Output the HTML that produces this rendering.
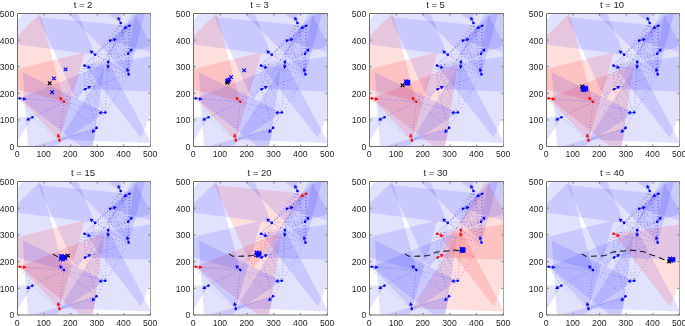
<!DOCTYPE html><html><head><meta charset="utf-8"><style>html,body{margin:0;padding:0;background:#fff;width:685px;height:326px;overflow:hidden}svg{display:block;filter:blur(0.3px)}text{font-family:"Liberation Sans",sans-serif;fill:#1e1e1e}.tx{filter:grayscale(1)}</style></head><body>
<svg width="685" height="326" viewBox="0 0 685 326">
<defs>
<clipPath id="c0"><rect x="18" y="14" width="132" height="132"/></clipPath>
<clipPath id="c1"><rect x="194" y="14" width="133" height="132"/></clipPath>
<clipPath id="c2"><rect x="370" y="14" width="133" height="132"/></clipPath>
<clipPath id="c3"><rect x="547" y="14" width="132" height="132"/></clipPath>
<clipPath id="c4"><rect x="18" y="182" width="132" height="132.5"/></clipPath>
<clipPath id="c5"><rect x="194" y="182" width="133" height="132.5"/></clipPath>
<clipPath id="c6"><rect x="370" y="182" width="133" height="132.5"/></clipPath>
<clipPath id="c7"><rect x="547" y="182" width="132" height="132.5"/></clipPath>
</defs>
<g clip-path="url(#c0)">
<polygon points="120.71,23.08 128.71,-68.34 45.53,-29.56" fill="rgb(0,0,255)" fill-opacity="0.115"/>
<polygon points="129.49,25.74 38.12,17.10 76.33,100.54" fill="rgb(0,0,255)" fill-opacity="0.115"/>
<polygon points="110.07,40.63 198.28,65.93 176.08,-23.12" fill="rgb(0,0,255)" fill-opacity="0.115"/>
<polygon points="95.17,54.73 58.73,-33.25 0.76,42.30" fill="rgb(0,0,255)" fill-opacity="0.115"/>
<polygon points="128.16,53.67 214.39,22.28 144.09,-36.71" fill="rgb(0,0,255)" fill-opacity="0.115"/>
<polygon points="108.21,61.91 59.58,139.74 151.29,142.94" fill="rgb(0,0,255)" fill-opacity="0.115"/>
<polygon points="128.69,74.41 152.44,-14.23 63.80,9.52" fill="rgb(0,0,255)" fill-opacity="0.115"/>
<polygon points="84.53,65.64 141.03,137.95 175.41,52.86" fill="rgb(0,0,255)" fill-opacity="0.115"/>
<polygon points="19.63,98.35 91.94,154.85 104.72,63.98" fill="rgb(0,0,255)" fill-opacity="0.115"/>
<polygon points="32.40,117.24 -59.32,114.04 -16.23,195.07" fill="rgb(0,0,255)" fill-opacity="0.115"/>
<polygon points="64.05,101.81 40.30,13.17 -24.59,78.06" fill="rgb(255,0,0)" fill-opacity="0.13"/>
<polygon points="59.53,140.38 84.82,52.17 -4.22,74.37" fill="rgb(255,0,0)" fill-opacity="0.13"/>
<polygon points="85.06,89.31 176.78,92.51 133.69,11.48" fill="rgb(0,0,255)" fill-opacity="0.115"/>
<polygon points="105.28,112.45 22.80,72.22 29.20,163.77" fill="rgb(0,0,255)" fill-opacity="0.115"/>
<polygon points="96.50,127.88 8.29,153.18 74.30,216.92" fill="rgb(0,0,255)" fill-opacity="0.115"/>
<line x1="120.7" y1="23.1" x2="129.5" y2="25.7" stroke="#0000ff" stroke-width="0.75" stroke-dasharray="0.8 2.4" stroke-opacity="0.5"/>
<line x1="120.7" y1="23.1" x2="110.1" y2="40.6" stroke="#0000ff" stroke-width="0.75" stroke-dasharray="0.8 2.4" stroke-opacity="0.5"/>
<line x1="120.7" y1="23.1" x2="95.2" y2="54.7" stroke="#0000ff" stroke-width="0.75" stroke-dasharray="0.8 2.4" stroke-opacity="0.5"/>
<line x1="120.7" y1="23.1" x2="128.2" y2="53.7" stroke="#0000ff" stroke-width="0.75" stroke-dasharray="0.8 2.4" stroke-opacity="0.5"/>
<line x1="120.7" y1="23.1" x2="108.2" y2="61.9" stroke="#0000ff" stroke-width="0.75" stroke-dasharray="0.8 2.4" stroke-opacity="0.5"/>
<line x1="120.7" y1="23.1" x2="128.7" y2="74.4" stroke="#0000ff" stroke-width="0.75" stroke-dasharray="0.8 2.4" stroke-opacity="0.5"/>
<line x1="129.5" y1="25.7" x2="110.1" y2="40.6" stroke="#0000ff" stroke-width="0.75" stroke-dasharray="0.8 2.4" stroke-opacity="0.5"/>
<line x1="129.5" y1="25.7" x2="95.2" y2="54.7" stroke="#0000ff" stroke-width="0.75" stroke-dasharray="0.8 2.4" stroke-opacity="0.5"/>
<line x1="129.5" y1="25.7" x2="128.2" y2="53.7" stroke="#0000ff" stroke-width="0.75" stroke-dasharray="0.8 2.4" stroke-opacity="0.5"/>
<line x1="129.5" y1="25.7" x2="108.2" y2="61.9" stroke="#0000ff" stroke-width="0.75" stroke-dasharray="0.8 2.4" stroke-opacity="0.5"/>
<line x1="129.5" y1="25.7" x2="128.7" y2="74.4" stroke="#0000ff" stroke-width="0.75" stroke-dasharray="0.8 2.4" stroke-opacity="0.5"/>
<line x1="110.1" y1="40.6" x2="95.2" y2="54.7" stroke="#0000ff" stroke-width="0.75" stroke-dasharray="0.8 2.4" stroke-opacity="0.5"/>
<line x1="110.1" y1="40.6" x2="128.2" y2="53.7" stroke="#0000ff" stroke-width="0.75" stroke-dasharray="0.8 2.4" stroke-opacity="0.5"/>
<line x1="110.1" y1="40.6" x2="108.2" y2="61.9" stroke="#0000ff" stroke-width="0.75" stroke-dasharray="0.8 2.4" stroke-opacity="0.5"/>
<line x1="110.1" y1="40.6" x2="128.7" y2="74.4" stroke="#0000ff" stroke-width="0.75" stroke-dasharray="0.8 2.4" stroke-opacity="0.5"/>
<line x1="110.1" y1="40.6" x2="84.5" y2="65.6" stroke="#0000ff" stroke-width="0.75" stroke-dasharray="0.8 2.4" stroke-opacity="0.5"/>
<line x1="95.2" y1="54.7" x2="128.2" y2="53.7" stroke="#0000ff" stroke-width="0.75" stroke-dasharray="0.8 2.4" stroke-opacity="0.5"/>
<line x1="95.2" y1="54.7" x2="108.2" y2="61.9" stroke="#0000ff" stroke-width="0.75" stroke-dasharray="0.8 2.4" stroke-opacity="0.5"/>
<line x1="95.2" y1="54.7" x2="128.7" y2="74.4" stroke="#0000ff" stroke-width="0.75" stroke-dasharray="0.8 2.4" stroke-opacity="0.5"/>
<line x1="95.2" y1="54.7" x2="84.5" y2="65.6" stroke="#0000ff" stroke-width="0.75" stroke-dasharray="0.8 2.4" stroke-opacity="0.5"/>
<line x1="95.2" y1="54.7" x2="85.1" y2="89.3" stroke="#0000ff" stroke-width="0.75" stroke-dasharray="0.8 2.4" stroke-opacity="0.5"/>
<line x1="128.2" y1="53.7" x2="108.2" y2="61.9" stroke="#0000ff" stroke-width="0.75" stroke-dasharray="0.8 2.4" stroke-opacity="0.5"/>
<line x1="128.2" y1="53.7" x2="128.7" y2="74.4" stroke="#0000ff" stroke-width="0.75" stroke-dasharray="0.8 2.4" stroke-opacity="0.5"/>
<line x1="128.2" y1="53.7" x2="84.5" y2="65.6" stroke="#0000ff" stroke-width="0.75" stroke-dasharray="0.8 2.4" stroke-opacity="0.5"/>
<line x1="108.2" y1="61.9" x2="128.7" y2="74.4" stroke="#0000ff" stroke-width="0.75" stroke-dasharray="0.8 2.4" stroke-opacity="0.5"/>
<line x1="108.2" y1="61.9" x2="84.5" y2="65.6" stroke="#0000ff" stroke-width="0.75" stroke-dasharray="0.8 2.4" stroke-opacity="0.5"/>
<line x1="108.2" y1="61.9" x2="85.1" y2="89.3" stroke="#0000ff" stroke-width="0.75" stroke-dasharray="0.8 2.4" stroke-opacity="0.5"/>
<line x1="108.2" y1="61.9" x2="105.3" y2="112.5" stroke="#0000ff" stroke-width="0.75" stroke-dasharray="0.8 2.4" stroke-opacity="0.5"/>
<line x1="128.7" y1="74.4" x2="84.5" y2="65.6" stroke="#0000ff" stroke-width="0.75" stroke-dasharray="0.8 2.4" stroke-opacity="0.5"/>
<line x1="128.7" y1="74.4" x2="85.1" y2="89.3" stroke="#0000ff" stroke-width="0.75" stroke-dasharray="0.8 2.4" stroke-opacity="0.5"/>
<line x1="128.7" y1="74.4" x2="105.3" y2="112.5" stroke="#0000ff" stroke-width="0.75" stroke-dasharray="0.8 2.4" stroke-opacity="0.5"/>
<line x1="84.5" y1="65.6" x2="64.0" y2="101.8" stroke="#0000ff" stroke-width="0.75" stroke-dasharray="0.8 2.4" stroke-opacity="0.5"/>
<line x1="84.5" y1="65.6" x2="85.1" y2="89.3" stroke="#0000ff" stroke-width="0.75" stroke-dasharray="0.8 2.4" stroke-opacity="0.5"/>
<line x1="84.5" y1="65.6" x2="105.3" y2="112.5" stroke="#0000ff" stroke-width="0.75" stroke-dasharray="0.8 2.4" stroke-opacity="0.5"/>
<line x1="19.6" y1="98.4" x2="32.4" y2="117.2" stroke="#0000ff" stroke-width="0.75" stroke-dasharray="0.8 2.4" stroke-opacity="0.5"/>
<line x1="19.6" y1="98.4" x2="64.0" y2="101.8" stroke="#0000ff" stroke-width="0.75" stroke-dasharray="0.8 2.4" stroke-opacity="0.5"/>
<line x1="32.4" y1="117.2" x2="64.0" y2="101.8" stroke="#0000ff" stroke-width="0.75" stroke-dasharray="0.8 2.4" stroke-opacity="0.5"/>
<line x1="32.4" y1="117.2" x2="59.5" y2="140.4" stroke="#0000ff" stroke-width="0.75" stroke-dasharray="0.8 2.4" stroke-opacity="0.5"/>
<line x1="64.0" y1="101.8" x2="59.5" y2="140.4" stroke="#0000ff" stroke-width="0.75" stroke-dasharray="0.8 2.4" stroke-opacity="0.5"/>
<line x1="64.0" y1="101.8" x2="85.1" y2="89.3" stroke="#0000ff" stroke-width="0.75" stroke-dasharray="0.8 2.4" stroke-opacity="0.5"/>
<line x1="64.0" y1="101.8" x2="105.3" y2="112.5" stroke="#0000ff" stroke-width="0.75" stroke-dasharray="0.8 2.4" stroke-opacity="0.5"/>
<line x1="64.0" y1="101.8" x2="96.5" y2="127.9" stroke="#0000ff" stroke-width="0.75" stroke-dasharray="0.8 2.4" stroke-opacity="0.5"/>
<line x1="59.5" y1="140.4" x2="96.5" y2="127.9" stroke="#0000ff" stroke-width="0.75" stroke-dasharray="0.8 2.4" stroke-opacity="0.5"/>
<line x1="85.1" y1="89.3" x2="105.3" y2="112.5" stroke="#0000ff" stroke-width="0.75" stroke-dasharray="0.8 2.4" stroke-opacity="0.5"/>
<line x1="85.1" y1="89.3" x2="96.5" y2="127.9" stroke="#0000ff" stroke-width="0.75" stroke-dasharray="0.8 2.4" stroke-opacity="0.5"/>
<line x1="105.3" y1="112.5" x2="96.5" y2="127.9" stroke="#0000ff" stroke-width="0.75" stroke-dasharray="0.8 2.4" stroke-opacity="0.5"/>
<circle cx="120.7" cy="23.1" r="1.3" fill="#0000ff"/>
<line x1="120.7" y1="23.1" x2="119.2" y2="19.8" stroke="#0000ff" stroke-width="0.7"/>
<polygon points="117.7,16.7 117.5,20.6 120.9,19.0" fill="#0000ff"/>
<circle cx="129.5" cy="25.7" r="1.3" fill="#0000ff"/>
<line x1="129.5" y1="25.7" x2="126.2" y2="27.2" stroke="#0000ff" stroke-width="0.7"/>
<polygon points="123.1,28.6 127.0,29.0 125.4,25.5" fill="#0000ff"/>
<circle cx="110.1" cy="40.6" r="1.3" fill="#0000ff"/>
<line x1="110.1" y1="40.6" x2="113.6" y2="39.8" stroke="#0000ff" stroke-width="0.7"/>
<polygon points="116.9,38.9 113.1,37.9 114.0,41.6" fill="#0000ff"/>
<circle cx="95.2" cy="54.7" r="1.3" fill="#0000ff"/>
<line x1="95.2" y1="54.7" x2="92.3" y2="52.5" stroke="#0000ff" stroke-width="0.7"/>
<polygon points="89.6,50.5 91.2,54.0 93.5,51.0" fill="#0000ff"/>
<circle cx="128.2" cy="53.7" r="1.3" fill="#0000ff"/>
<line x1="128.2" y1="53.7" x2="130.5" y2="50.9" stroke="#0000ff" stroke-width="0.7"/>
<polygon points="132.7,48.3 129.0,49.7 131.9,52.1" fill="#0000ff"/>
<circle cx="108.2" cy="61.9" r="1.3" fill="#0000ff"/>
<line x1="108.2" y1="61.9" x2="108.1" y2="65.5" stroke="#0000ff" stroke-width="0.7"/>
<polygon points="108.0,68.9 110.0,65.6 106.2,65.4" fill="#0000ff"/>
<circle cx="128.7" cy="74.4" r="1.3" fill="#0000ff"/>
<line x1="128.7" y1="74.4" x2="127.8" y2="70.9" stroke="#0000ff" stroke-width="0.7"/>
<polygon points="126.9,67.7 125.9,71.4 129.6,70.4" fill="#0000ff"/>
<circle cx="84.5" cy="65.6" r="1.3" fill="#0000ff"/>
<line x1="84.5" y1="65.6" x2="87.9" y2="67.0" stroke="#0000ff" stroke-width="0.7"/>
<polygon points="91.0,68.3 88.6,65.2 87.2,68.7" fill="#0000ff"/>
<circle cx="19.6" cy="98.4" r="1.3" fill="#0000ff"/>
<line x1="19.6" y1="98.4" x2="23.2" y2="98.9" stroke="#0000ff" stroke-width="0.7"/>
<polygon points="26.6,99.3 23.5,97.0 22.9,100.7" fill="#0000ff"/>
<circle cx="32.4" cy="117.2" r="1.3" fill="#0000ff"/>
<line x1="32.4" y1="117.2" x2="29.2" y2="118.9" stroke="#0000ff" stroke-width="0.7"/>
<polygon points="26.2,120.5 30.1,120.6 28.3,117.3" fill="#0000ff"/>
<circle cx="64.0" cy="101.8" r="1.3" fill="#ff0000"/>
<line x1="64.0" y1="101.8" x2="61.5" y2="99.3" stroke="#ff0000" stroke-width="0.7"/>
<polygon points="59.1,96.9 60.2,100.6 62.8,97.9" fill="#ff0000"/>
<circle cx="59.5" cy="140.4" r="1.3" fill="#ff0000"/>
<line x1="59.5" y1="140.4" x2="58.7" y2="136.9" stroke="#ff0000" stroke-width="0.7"/>
<polygon points="57.8,133.6 56.8,137.3 60.5,136.4" fill="#ff0000"/>
<circle cx="85.1" cy="89.3" r="1.3" fill="#0000ff"/>
<line x1="85.1" y1="89.3" x2="88.2" y2="87.6" stroke="#0000ff" stroke-width="0.7"/>
<polygon points="91.2,86.0 87.4,85.9 89.1,89.3" fill="#0000ff"/>
<circle cx="105.3" cy="112.5" r="1.3" fill="#0000ff"/>
<line x1="105.3" y1="112.5" x2="101.7" y2="112.7" stroke="#0000ff" stroke-width="0.7"/>
<polygon points="98.3,112.9 101.8,114.6 101.6,110.8" fill="#0000ff"/>
<circle cx="96.5" cy="127.9" r="1.3" fill="#0000ff"/>
<line x1="96.5" y1="127.9" x2="94.0" y2="130.5" stroke="#0000ff" stroke-width="0.7"/>
<polygon points="91.6,132.9 95.4,131.8 92.6,129.1" fill="#0000ff"/>
<path d="M63.8,67.6L67.4,71.2M63.8,71.2L67.4,67.6" stroke="#0000ff" stroke-width="1.2"/>
<path d="M52.1,76.6L55.7,80.2M52.1,80.2L55.7,76.6" stroke="#0000ff" stroke-width="1.2"/>
<path d="M50.3,90.4L53.9,94.0M50.3,94.0L53.9,90.4" stroke="#0000ff" stroke-width="1.2"/>
<path d="M47.9,81.4L51.5,85.0M47.9,85.0L51.5,81.4" stroke="#000" stroke-width="1.2"/>
</g>
<path d="M150.5,13.5H17.5V146.5H150.5" fill="none" stroke="#6c6c6c" stroke-width="1"/>
<path d="M150.5,13V147" fill="none" stroke="#a4a4a4" stroke-width="1"/>
<path d="M17.5,146v-1.5M17.5,14v1.5M18,146.5h1.5M150,146.5h-1.5M44.1,146v-1.5M44.1,14v1.5M18,119.9h1.5M150,119.9h-1.5M70.7,146v-1.5M70.7,14v1.5M18,93.3h1.5M150,93.3h-1.5M97.3,146v-1.5M97.3,14v1.5M18,66.7h1.5M150,66.7h-1.5M123.9,146v-1.5M123.9,14v1.5M18,40.1h1.5M150,40.1h-1.5M150.5,146v-1.5M150.5,14v1.5M18,13.5h1.5M150,13.5h-1.5" stroke="#6c6c6c" stroke-width="1"/>
<g clip-path="url(#c1)">
<polygon points="297.48,23.08 305.54,-68.34 221.75,-29.56" fill="rgb(0,0,255)" fill-opacity="0.115"/>
<polygon points="306.33,25.74 214.28,17.10 252.77,100.54" fill="rgb(0,0,255)" fill-opacity="0.115"/>
<polygon points="286.76,40.63 375.64,65.93 353.27,-23.12" fill="rgb(0,0,255)" fill-opacity="0.115"/>
<polygon points="271.76,54.73 235.04,-33.25 176.63,42.30" fill="rgb(0,0,255)" fill-opacity="0.115"/>
<polygon points="304.99,53.67 391.87,22.28 321.04,-36.71" fill="rgb(0,0,255)" fill-opacity="0.115"/>
<polygon points="284.89,61.91 235.89,139.74 328.30,142.94" fill="rgb(0,0,255)" fill-opacity="0.115"/>
<polygon points="305.52,74.41 329.45,-14.23 240.14,9.52" fill="rgb(0,0,255)" fill-opacity="0.115"/>
<polygon points="261.04,65.64 317.96,137.95 352.60,52.86" fill="rgb(0,0,255)" fill-opacity="0.115"/>
<polygon points="195.64,98.35 268.50,154.85 281.37,63.98" fill="rgb(0,0,255)" fill-opacity="0.115"/>
<polygon points="208.51,117.24 116.10,114.04 159.51,195.07" fill="rgb(0,0,255)" fill-opacity="0.115"/>
<polygon points="240.40,101.81 216.47,13.17 151.09,78.06" fill="rgb(255,0,0)" fill-opacity="0.13"/>
<polygon points="235.84,140.38 261.33,52.17 171.62,74.37" fill="rgb(255,0,0)" fill-opacity="0.13"/>
<polygon points="261.57,89.31 353.98,92.51 310.57,11.48" fill="rgb(0,0,255)" fill-opacity="0.115"/>
<polygon points="281.94,112.45 198.84,72.22 205.29,163.77" fill="rgb(0,0,255)" fill-opacity="0.115"/>
<polygon points="273.10,127.88 184.22,153.18 250.73,216.92" fill="rgb(0,0,255)" fill-opacity="0.115"/>
<line x1="297.5" y1="23.1" x2="306.3" y2="25.7" stroke="#0000ff" stroke-width="0.75" stroke-dasharray="0.8 2.4" stroke-opacity="0.5"/>
<line x1="297.5" y1="23.1" x2="286.8" y2="40.6" stroke="#0000ff" stroke-width="0.75" stroke-dasharray="0.8 2.4" stroke-opacity="0.5"/>
<line x1="297.5" y1="23.1" x2="271.8" y2="54.7" stroke="#0000ff" stroke-width="0.75" stroke-dasharray="0.8 2.4" stroke-opacity="0.5"/>
<line x1="297.5" y1="23.1" x2="305.0" y2="53.7" stroke="#0000ff" stroke-width="0.75" stroke-dasharray="0.8 2.4" stroke-opacity="0.5"/>
<line x1="297.5" y1="23.1" x2="284.9" y2="61.9" stroke="#0000ff" stroke-width="0.75" stroke-dasharray="0.8 2.4" stroke-opacity="0.5"/>
<line x1="297.5" y1="23.1" x2="305.5" y2="74.4" stroke="#0000ff" stroke-width="0.75" stroke-dasharray="0.8 2.4" stroke-opacity="0.5"/>
<line x1="306.3" y1="25.7" x2="286.8" y2="40.6" stroke="#0000ff" stroke-width="0.75" stroke-dasharray="0.8 2.4" stroke-opacity="0.5"/>
<line x1="306.3" y1="25.7" x2="271.8" y2="54.7" stroke="#0000ff" stroke-width="0.75" stroke-dasharray="0.8 2.4" stroke-opacity="0.5"/>
<line x1="306.3" y1="25.7" x2="305.0" y2="53.7" stroke="#0000ff" stroke-width="0.75" stroke-dasharray="0.8 2.4" stroke-opacity="0.5"/>
<line x1="306.3" y1="25.7" x2="284.9" y2="61.9" stroke="#0000ff" stroke-width="0.75" stroke-dasharray="0.8 2.4" stroke-opacity="0.5"/>
<line x1="306.3" y1="25.7" x2="305.5" y2="74.4" stroke="#0000ff" stroke-width="0.75" stroke-dasharray="0.8 2.4" stroke-opacity="0.5"/>
<line x1="286.8" y1="40.6" x2="271.8" y2="54.7" stroke="#0000ff" stroke-width="0.75" stroke-dasharray="0.8 2.4" stroke-opacity="0.5"/>
<line x1="286.8" y1="40.6" x2="305.0" y2="53.7" stroke="#0000ff" stroke-width="0.75" stroke-dasharray="0.8 2.4" stroke-opacity="0.5"/>
<line x1="286.8" y1="40.6" x2="284.9" y2="61.9" stroke="#0000ff" stroke-width="0.75" stroke-dasharray="0.8 2.4" stroke-opacity="0.5"/>
<line x1="286.8" y1="40.6" x2="305.5" y2="74.4" stroke="#0000ff" stroke-width="0.75" stroke-dasharray="0.8 2.4" stroke-opacity="0.5"/>
<line x1="286.8" y1="40.6" x2="261.0" y2="65.6" stroke="#0000ff" stroke-width="0.75" stroke-dasharray="0.8 2.4" stroke-opacity="0.5"/>
<line x1="271.8" y1="54.7" x2="305.0" y2="53.7" stroke="#0000ff" stroke-width="0.75" stroke-dasharray="0.8 2.4" stroke-opacity="0.5"/>
<line x1="271.8" y1="54.7" x2="284.9" y2="61.9" stroke="#0000ff" stroke-width="0.75" stroke-dasharray="0.8 2.4" stroke-opacity="0.5"/>
<line x1="271.8" y1="54.7" x2="305.5" y2="74.4" stroke="#0000ff" stroke-width="0.75" stroke-dasharray="0.8 2.4" stroke-opacity="0.5"/>
<line x1="271.8" y1="54.7" x2="261.0" y2="65.6" stroke="#0000ff" stroke-width="0.75" stroke-dasharray="0.8 2.4" stroke-opacity="0.5"/>
<line x1="271.8" y1="54.7" x2="261.6" y2="89.3" stroke="#0000ff" stroke-width="0.75" stroke-dasharray="0.8 2.4" stroke-opacity="0.5"/>
<line x1="305.0" y1="53.7" x2="284.9" y2="61.9" stroke="#0000ff" stroke-width="0.75" stroke-dasharray="0.8 2.4" stroke-opacity="0.5"/>
<line x1="305.0" y1="53.7" x2="305.5" y2="74.4" stroke="#0000ff" stroke-width="0.75" stroke-dasharray="0.8 2.4" stroke-opacity="0.5"/>
<line x1="305.0" y1="53.7" x2="261.0" y2="65.6" stroke="#0000ff" stroke-width="0.75" stroke-dasharray="0.8 2.4" stroke-opacity="0.5"/>
<line x1="284.9" y1="61.9" x2="305.5" y2="74.4" stroke="#0000ff" stroke-width="0.75" stroke-dasharray="0.8 2.4" stroke-opacity="0.5"/>
<line x1="284.9" y1="61.9" x2="261.0" y2="65.6" stroke="#0000ff" stroke-width="0.75" stroke-dasharray="0.8 2.4" stroke-opacity="0.5"/>
<line x1="284.9" y1="61.9" x2="261.6" y2="89.3" stroke="#0000ff" stroke-width="0.75" stroke-dasharray="0.8 2.4" stroke-opacity="0.5"/>
<line x1="284.9" y1="61.9" x2="281.9" y2="112.5" stroke="#0000ff" stroke-width="0.75" stroke-dasharray="0.8 2.4" stroke-opacity="0.5"/>
<line x1="305.5" y1="74.4" x2="261.0" y2="65.6" stroke="#0000ff" stroke-width="0.75" stroke-dasharray="0.8 2.4" stroke-opacity="0.5"/>
<line x1="305.5" y1="74.4" x2="261.6" y2="89.3" stroke="#0000ff" stroke-width="0.75" stroke-dasharray="0.8 2.4" stroke-opacity="0.5"/>
<line x1="305.5" y1="74.4" x2="281.9" y2="112.5" stroke="#0000ff" stroke-width="0.75" stroke-dasharray="0.8 2.4" stroke-opacity="0.5"/>
<line x1="261.0" y1="65.6" x2="240.4" y2="101.8" stroke="#0000ff" stroke-width="0.75" stroke-dasharray="0.8 2.4" stroke-opacity="0.5"/>
<line x1="261.0" y1="65.6" x2="261.6" y2="89.3" stroke="#0000ff" stroke-width="0.75" stroke-dasharray="0.8 2.4" stroke-opacity="0.5"/>
<line x1="261.0" y1="65.6" x2="281.9" y2="112.5" stroke="#0000ff" stroke-width="0.75" stroke-dasharray="0.8 2.4" stroke-opacity="0.5"/>
<line x1="195.6" y1="98.4" x2="208.5" y2="117.2" stroke="#0000ff" stroke-width="0.75" stroke-dasharray="0.8 2.4" stroke-opacity="0.5"/>
<line x1="195.6" y1="98.4" x2="240.4" y2="101.8" stroke="#0000ff" stroke-width="0.75" stroke-dasharray="0.8 2.4" stroke-opacity="0.5"/>
<line x1="208.5" y1="117.2" x2="240.4" y2="101.8" stroke="#0000ff" stroke-width="0.75" stroke-dasharray="0.8 2.4" stroke-opacity="0.5"/>
<line x1="208.5" y1="117.2" x2="235.8" y2="140.4" stroke="#0000ff" stroke-width="0.75" stroke-dasharray="0.8 2.4" stroke-opacity="0.5"/>
<line x1="240.4" y1="101.8" x2="235.8" y2="140.4" stroke="#0000ff" stroke-width="0.75" stroke-dasharray="0.8 2.4" stroke-opacity="0.5"/>
<line x1="240.4" y1="101.8" x2="261.6" y2="89.3" stroke="#0000ff" stroke-width="0.75" stroke-dasharray="0.8 2.4" stroke-opacity="0.5"/>
<line x1="240.4" y1="101.8" x2="281.9" y2="112.5" stroke="#0000ff" stroke-width="0.75" stroke-dasharray="0.8 2.4" stroke-opacity="0.5"/>
<line x1="240.4" y1="101.8" x2="273.1" y2="127.9" stroke="#0000ff" stroke-width="0.75" stroke-dasharray="0.8 2.4" stroke-opacity="0.5"/>
<line x1="235.8" y1="140.4" x2="273.1" y2="127.9" stroke="#0000ff" stroke-width="0.75" stroke-dasharray="0.8 2.4" stroke-opacity="0.5"/>
<line x1="261.6" y1="89.3" x2="281.9" y2="112.5" stroke="#0000ff" stroke-width="0.75" stroke-dasharray="0.8 2.4" stroke-opacity="0.5"/>
<line x1="261.6" y1="89.3" x2="273.1" y2="127.9" stroke="#0000ff" stroke-width="0.75" stroke-dasharray="0.8 2.4" stroke-opacity="0.5"/>
<line x1="281.9" y1="112.5" x2="273.1" y2="127.9" stroke="#0000ff" stroke-width="0.75" stroke-dasharray="0.8 2.4" stroke-opacity="0.5"/>
<circle cx="297.5" cy="23.1" r="1.3" fill="#0000ff"/>
<line x1="297.5" y1="23.1" x2="296.0" y2="19.8" stroke="#0000ff" stroke-width="0.7"/>
<polygon points="294.5,16.7 294.2,20.6 297.7,19.0" fill="#0000ff"/>
<circle cx="306.3" cy="25.7" r="1.3" fill="#0000ff"/>
<line x1="306.3" y1="25.7" x2="303.1" y2="27.2" stroke="#0000ff" stroke-width="0.7"/>
<polygon points="300.0,28.6 303.8,29.0 302.3,25.5" fill="#0000ff"/>
<circle cx="286.8" cy="40.6" r="1.3" fill="#0000ff"/>
<line x1="286.8" y1="40.6" x2="290.3" y2="39.8" stroke="#0000ff" stroke-width="0.7"/>
<polygon points="293.6,38.9 289.8,37.9 290.7,41.6" fill="#0000ff"/>
<circle cx="271.8" cy="54.7" r="1.3" fill="#0000ff"/>
<line x1="271.8" y1="54.7" x2="268.9" y2="52.5" stroke="#0000ff" stroke-width="0.7"/>
<polygon points="266.2,50.5 267.7,54.0 270.1,51.0" fill="#0000ff"/>
<circle cx="305.0" cy="53.7" r="1.3" fill="#0000ff"/>
<line x1="305.0" y1="53.7" x2="307.3" y2="50.9" stroke="#0000ff" stroke-width="0.7"/>
<polygon points="309.5,48.3 305.8,49.7 308.8,52.1" fill="#0000ff"/>
<circle cx="284.9" cy="61.9" r="1.3" fill="#0000ff"/>
<line x1="284.9" y1="61.9" x2="284.8" y2="65.5" stroke="#0000ff" stroke-width="0.7"/>
<polygon points="284.6,68.9 286.7,65.6 282.9,65.4" fill="#0000ff"/>
<circle cx="305.5" cy="74.4" r="1.3" fill="#0000ff"/>
<line x1="305.5" y1="74.4" x2="304.6" y2="70.9" stroke="#0000ff" stroke-width="0.7"/>
<polygon points="303.7,67.7 302.8,71.4 306.4,70.4" fill="#0000ff"/>
<circle cx="261.0" cy="65.6" r="1.3" fill="#0000ff"/>
<line x1="261.0" y1="65.6" x2="264.4" y2="67.0" stroke="#0000ff" stroke-width="0.7"/>
<polygon points="267.5,68.3 265.1,65.2 263.7,68.7" fill="#0000ff"/>
<circle cx="195.6" cy="98.4" r="1.3" fill="#0000ff"/>
<line x1="195.6" y1="98.4" x2="199.2" y2="98.9" stroke="#0000ff" stroke-width="0.7"/>
<polygon points="202.6,99.3 199.5,97.0 198.9,100.7" fill="#0000ff"/>
<circle cx="208.5" cy="117.2" r="1.3" fill="#0000ff"/>
<line x1="208.5" y1="117.2" x2="205.3" y2="118.9" stroke="#0000ff" stroke-width="0.7"/>
<polygon points="202.3,120.5 206.2,120.6 204.4,117.3" fill="#0000ff"/>
<circle cx="240.4" cy="101.8" r="1.3" fill="#ff0000"/>
<line x1="240.4" y1="101.8" x2="237.9" y2="99.3" stroke="#ff0000" stroke-width="0.7"/>
<polygon points="235.5,96.9 236.5,100.6 239.2,97.9" fill="#ff0000"/>
<circle cx="235.8" cy="140.4" r="1.3" fill="#ff0000"/>
<line x1="235.8" y1="140.4" x2="235.0" y2="136.9" stroke="#ff0000" stroke-width="0.7"/>
<polygon points="234.2,133.6 233.1,137.3 236.8,136.4" fill="#ff0000"/>
<circle cx="261.6" cy="89.3" r="1.3" fill="#0000ff"/>
<line x1="261.6" y1="89.3" x2="264.8" y2="87.6" stroke="#0000ff" stroke-width="0.7"/>
<polygon points="267.8,86.0 263.9,85.9 265.6,89.3" fill="#0000ff"/>
<circle cx="281.9" cy="112.5" r="1.3" fill="#0000ff"/>
<line x1="281.9" y1="112.5" x2="278.3" y2="112.7" stroke="#0000ff" stroke-width="0.7"/>
<polygon points="275.0,112.9 278.5,114.6 278.2,110.8" fill="#0000ff"/>
<circle cx="273.1" cy="127.9" r="1.3" fill="#0000ff"/>
<line x1="273.1" y1="127.9" x2="270.6" y2="130.5" stroke="#0000ff" stroke-width="0.7"/>
<polygon points="268.2,132.9 272.0,131.8 269.2,129.1" fill="#0000ff"/>
<path d="M242.4,68.6L246.0,72.2M242.4,72.2L246.0,68.6" stroke="#0000ff" stroke-width="1.2"/>
<path d="M229.2,75.3L232.8,78.9M229.2,78.9L232.8,75.3" stroke="#0000ff" stroke-width="1.2"/>
<path d="M226.0,78.5L229.6,82.1M226.0,82.1L229.6,78.5" stroke="#0000ff" stroke-width="1.2"/>
<path d="M226.8,79.8L230.4,83.4M226.8,83.4L230.4,79.8" stroke="#0000ff" stroke-width="1.2"/>
<path d="M227.6,77.7L231.2,81.3M227.6,81.3L231.2,77.7" stroke="#0000ff" stroke-width="1.2"/>
<path d="M225.2,79.3L228.8,82.9M225.2,82.9L228.8,79.3" stroke="#0000ff" stroke-width="1.2"/>
<path d="M225.5,80.9L229.1,84.5M225.5,84.5L229.1,80.9" stroke="#000" stroke-width="1.2"/>
</g>
<path d="M327.5,13.5H193.5V146.5H327.5" fill="none" stroke="#6c6c6c" stroke-width="1"/>
<path d="M327.5,13V147" fill="none" stroke="#a4a4a4" stroke-width="1"/>
<path d="M193.5,146v-1.5M193.5,14v1.5M194,146.5h1.5M327,146.5h-1.5M220.3,146v-1.5M220.3,14v1.5M194,119.9h1.5M327,119.9h-1.5M247.1,146v-1.5M247.1,14v1.5M194,93.3h1.5M327,93.3h-1.5M273.9,146v-1.5M273.9,14v1.5M194,66.7h1.5M327,66.7h-1.5M300.7,146v-1.5M300.7,14v1.5M194,40.1h1.5M327,40.1h-1.5M327.5,146v-1.5M327.5,14v1.5M194,13.5h1.5M327,13.5h-1.5" stroke="#6c6c6c" stroke-width="1"/>
<g clip-path="url(#c2)">
<polygon points="473.48,23.08 481.54,-68.34 397.75,-29.56" fill="rgb(0,0,255)" fill-opacity="0.115"/>
<polygon points="482.33,25.74 390.28,17.10 428.77,100.54" fill="rgb(0,0,255)" fill-opacity="0.115"/>
<polygon points="462.76,40.63 551.64,65.93 529.27,-23.12" fill="rgb(0,0,255)" fill-opacity="0.115"/>
<polygon points="447.76,54.73 411.04,-33.25 352.63,42.30" fill="rgb(0,0,255)" fill-opacity="0.115"/>
<polygon points="480.99,53.67 567.87,22.28 497.04,-36.71" fill="rgb(0,0,255)" fill-opacity="0.115"/>
<polygon points="460.89,61.91 411.89,139.74 504.30,142.94" fill="rgb(0,0,255)" fill-opacity="0.115"/>
<polygon points="481.52,74.41 505.45,-14.23 416.14,9.52" fill="rgb(0,0,255)" fill-opacity="0.115"/>
<polygon points="437.04,65.64 493.96,137.95 528.60,52.86" fill="rgb(0,0,255)" fill-opacity="0.115"/>
<polygon points="371.64,98.35 444.50,154.85 457.37,63.98" fill="rgb(255,0,0)" fill-opacity="0.13"/>
<polygon points="384.51,117.24 292.10,114.04 335.51,195.07" fill="rgb(0,0,255)" fill-opacity="0.115"/>
<polygon points="416.40,101.81 392.47,13.17 327.09,78.06" fill="rgb(255,0,0)" fill-opacity="0.13"/>
<polygon points="411.84,140.38 437.33,52.17 347.62,74.37" fill="rgb(255,0,0)" fill-opacity="0.13"/>
<polygon points="437.57,89.31 529.98,92.51 486.57,11.48" fill="rgb(0,0,255)" fill-opacity="0.115"/>
<polygon points="457.94,112.45 374.84,72.22 381.29,163.77" fill="rgb(0,0,255)" fill-opacity="0.115"/>
<polygon points="449.10,127.88 360.22,153.18 426.73,216.92" fill="rgb(0,0,255)" fill-opacity="0.115"/>
<line x1="473.5" y1="23.1" x2="482.3" y2="25.7" stroke="#0000ff" stroke-width="0.75" stroke-dasharray="0.8 2.4" stroke-opacity="0.5"/>
<line x1="473.5" y1="23.1" x2="462.8" y2="40.6" stroke="#0000ff" stroke-width="0.75" stroke-dasharray="0.8 2.4" stroke-opacity="0.5"/>
<line x1="473.5" y1="23.1" x2="447.8" y2="54.7" stroke="#0000ff" stroke-width="0.75" stroke-dasharray="0.8 2.4" stroke-opacity="0.5"/>
<line x1="473.5" y1="23.1" x2="481.0" y2="53.7" stroke="#0000ff" stroke-width="0.75" stroke-dasharray="0.8 2.4" stroke-opacity="0.5"/>
<line x1="473.5" y1="23.1" x2="460.9" y2="61.9" stroke="#0000ff" stroke-width="0.75" stroke-dasharray="0.8 2.4" stroke-opacity="0.5"/>
<line x1="473.5" y1="23.1" x2="481.5" y2="74.4" stroke="#0000ff" stroke-width="0.75" stroke-dasharray="0.8 2.4" stroke-opacity="0.5"/>
<line x1="482.3" y1="25.7" x2="462.8" y2="40.6" stroke="#0000ff" stroke-width="0.75" stroke-dasharray="0.8 2.4" stroke-opacity="0.5"/>
<line x1="482.3" y1="25.7" x2="447.8" y2="54.7" stroke="#0000ff" stroke-width="0.75" stroke-dasharray="0.8 2.4" stroke-opacity="0.5"/>
<line x1="482.3" y1="25.7" x2="481.0" y2="53.7" stroke="#0000ff" stroke-width="0.75" stroke-dasharray="0.8 2.4" stroke-opacity="0.5"/>
<line x1="482.3" y1="25.7" x2="460.9" y2="61.9" stroke="#0000ff" stroke-width="0.75" stroke-dasharray="0.8 2.4" stroke-opacity="0.5"/>
<line x1="482.3" y1="25.7" x2="481.5" y2="74.4" stroke="#0000ff" stroke-width="0.75" stroke-dasharray="0.8 2.4" stroke-opacity="0.5"/>
<line x1="462.8" y1="40.6" x2="447.8" y2="54.7" stroke="#0000ff" stroke-width="0.75" stroke-dasharray="0.8 2.4" stroke-opacity="0.5"/>
<line x1="462.8" y1="40.6" x2="481.0" y2="53.7" stroke="#0000ff" stroke-width="0.75" stroke-dasharray="0.8 2.4" stroke-opacity="0.5"/>
<line x1="462.8" y1="40.6" x2="460.9" y2="61.9" stroke="#0000ff" stroke-width="0.75" stroke-dasharray="0.8 2.4" stroke-opacity="0.5"/>
<line x1="462.8" y1="40.6" x2="481.5" y2="74.4" stroke="#0000ff" stroke-width="0.75" stroke-dasharray="0.8 2.4" stroke-opacity="0.5"/>
<line x1="462.8" y1="40.6" x2="437.0" y2="65.6" stroke="#0000ff" stroke-width="0.75" stroke-dasharray="0.8 2.4" stroke-opacity="0.5"/>
<line x1="447.8" y1="54.7" x2="481.0" y2="53.7" stroke="#0000ff" stroke-width="0.75" stroke-dasharray="0.8 2.4" stroke-opacity="0.5"/>
<line x1="447.8" y1="54.7" x2="460.9" y2="61.9" stroke="#0000ff" stroke-width="0.75" stroke-dasharray="0.8 2.4" stroke-opacity="0.5"/>
<line x1="447.8" y1="54.7" x2="481.5" y2="74.4" stroke="#0000ff" stroke-width="0.75" stroke-dasharray="0.8 2.4" stroke-opacity="0.5"/>
<line x1="447.8" y1="54.7" x2="437.0" y2="65.6" stroke="#0000ff" stroke-width="0.75" stroke-dasharray="0.8 2.4" stroke-opacity="0.5"/>
<line x1="447.8" y1="54.7" x2="437.6" y2="89.3" stroke="#0000ff" stroke-width="0.75" stroke-dasharray="0.8 2.4" stroke-opacity="0.5"/>
<line x1="481.0" y1="53.7" x2="460.9" y2="61.9" stroke="#0000ff" stroke-width="0.75" stroke-dasharray="0.8 2.4" stroke-opacity="0.5"/>
<line x1="481.0" y1="53.7" x2="481.5" y2="74.4" stroke="#0000ff" stroke-width="0.75" stroke-dasharray="0.8 2.4" stroke-opacity="0.5"/>
<line x1="481.0" y1="53.7" x2="437.0" y2="65.6" stroke="#0000ff" stroke-width="0.75" stroke-dasharray="0.8 2.4" stroke-opacity="0.5"/>
<line x1="460.9" y1="61.9" x2="481.5" y2="74.4" stroke="#0000ff" stroke-width="0.75" stroke-dasharray="0.8 2.4" stroke-opacity="0.5"/>
<line x1="460.9" y1="61.9" x2="437.0" y2="65.6" stroke="#0000ff" stroke-width="0.75" stroke-dasharray="0.8 2.4" stroke-opacity="0.5"/>
<line x1="460.9" y1="61.9" x2="437.6" y2="89.3" stroke="#0000ff" stroke-width="0.75" stroke-dasharray="0.8 2.4" stroke-opacity="0.5"/>
<line x1="460.9" y1="61.9" x2="457.9" y2="112.5" stroke="#0000ff" stroke-width="0.75" stroke-dasharray="0.8 2.4" stroke-opacity="0.5"/>
<line x1="481.5" y1="74.4" x2="437.0" y2="65.6" stroke="#0000ff" stroke-width="0.75" stroke-dasharray="0.8 2.4" stroke-opacity="0.5"/>
<line x1="481.5" y1="74.4" x2="437.6" y2="89.3" stroke="#0000ff" stroke-width="0.75" stroke-dasharray="0.8 2.4" stroke-opacity="0.5"/>
<line x1="481.5" y1="74.4" x2="457.9" y2="112.5" stroke="#0000ff" stroke-width="0.75" stroke-dasharray="0.8 2.4" stroke-opacity="0.5"/>
<line x1="437.0" y1="65.6" x2="416.4" y2="101.8" stroke="#0000ff" stroke-width="0.75" stroke-dasharray="0.8 2.4" stroke-opacity="0.5"/>
<line x1="437.0" y1="65.6" x2="437.6" y2="89.3" stroke="#0000ff" stroke-width="0.75" stroke-dasharray="0.8 2.4" stroke-opacity="0.5"/>
<line x1="437.0" y1="65.6" x2="457.9" y2="112.5" stroke="#0000ff" stroke-width="0.75" stroke-dasharray="0.8 2.4" stroke-opacity="0.5"/>
<line x1="371.6" y1="98.4" x2="384.5" y2="117.2" stroke="#0000ff" stroke-width="0.75" stroke-dasharray="0.8 2.4" stroke-opacity="0.5"/>
<line x1="371.6" y1="98.4" x2="416.4" y2="101.8" stroke="#0000ff" stroke-width="0.75" stroke-dasharray="0.8 2.4" stroke-opacity="0.5"/>
<line x1="384.5" y1="117.2" x2="416.4" y2="101.8" stroke="#0000ff" stroke-width="0.75" stroke-dasharray="0.8 2.4" stroke-opacity="0.5"/>
<line x1="384.5" y1="117.2" x2="411.8" y2="140.4" stroke="#0000ff" stroke-width="0.75" stroke-dasharray="0.8 2.4" stroke-opacity="0.5"/>
<line x1="416.4" y1="101.8" x2="411.8" y2="140.4" stroke="#0000ff" stroke-width="0.75" stroke-dasharray="0.8 2.4" stroke-opacity="0.5"/>
<line x1="416.4" y1="101.8" x2="437.6" y2="89.3" stroke="#0000ff" stroke-width="0.75" stroke-dasharray="0.8 2.4" stroke-opacity="0.5"/>
<line x1="416.4" y1="101.8" x2="457.9" y2="112.5" stroke="#0000ff" stroke-width="0.75" stroke-dasharray="0.8 2.4" stroke-opacity="0.5"/>
<line x1="416.4" y1="101.8" x2="449.1" y2="127.9" stroke="#0000ff" stroke-width="0.75" stroke-dasharray="0.8 2.4" stroke-opacity="0.5"/>
<line x1="411.8" y1="140.4" x2="449.1" y2="127.9" stroke="#0000ff" stroke-width="0.75" stroke-dasharray="0.8 2.4" stroke-opacity="0.5"/>
<line x1="437.6" y1="89.3" x2="457.9" y2="112.5" stroke="#0000ff" stroke-width="0.75" stroke-dasharray="0.8 2.4" stroke-opacity="0.5"/>
<line x1="437.6" y1="89.3" x2="449.1" y2="127.9" stroke="#0000ff" stroke-width="0.75" stroke-dasharray="0.8 2.4" stroke-opacity="0.5"/>
<line x1="457.9" y1="112.5" x2="449.1" y2="127.9" stroke="#0000ff" stroke-width="0.75" stroke-dasharray="0.8 2.4" stroke-opacity="0.5"/>
<circle cx="473.5" cy="23.1" r="1.3" fill="#0000ff"/>
<line x1="473.5" y1="23.1" x2="472.0" y2="19.8" stroke="#0000ff" stroke-width="0.7"/>
<polygon points="470.5,16.7 470.2,20.6 473.7,19.0" fill="#0000ff"/>
<circle cx="482.3" cy="25.7" r="1.3" fill="#0000ff"/>
<line x1="482.3" y1="25.7" x2="479.1" y2="27.2" stroke="#0000ff" stroke-width="0.7"/>
<polygon points="476.0,28.6 479.8,29.0 478.3,25.5" fill="#0000ff"/>
<circle cx="462.8" cy="40.6" r="1.3" fill="#0000ff"/>
<line x1="462.8" y1="40.6" x2="466.3" y2="39.8" stroke="#0000ff" stroke-width="0.7"/>
<polygon points="469.6,38.9 465.8,37.9 466.7,41.6" fill="#0000ff"/>
<circle cx="447.8" cy="54.7" r="1.3" fill="#0000ff"/>
<line x1="447.8" y1="54.7" x2="444.9" y2="52.5" stroke="#0000ff" stroke-width="0.7"/>
<polygon points="442.2,50.5 443.7,54.0 446.1,51.0" fill="#0000ff"/>
<circle cx="481.0" cy="53.7" r="1.3" fill="#0000ff"/>
<line x1="481.0" y1="53.7" x2="483.3" y2="50.9" stroke="#0000ff" stroke-width="0.7"/>
<polygon points="485.5,48.3 481.8,49.7 484.8,52.1" fill="#0000ff"/>
<circle cx="460.9" cy="61.9" r="1.3" fill="#0000ff"/>
<line x1="460.9" y1="61.9" x2="460.8" y2="65.5" stroke="#0000ff" stroke-width="0.7"/>
<polygon points="460.6,68.9 462.7,65.6 458.9,65.4" fill="#0000ff"/>
<circle cx="481.5" cy="74.4" r="1.3" fill="#0000ff"/>
<line x1="481.5" y1="74.4" x2="480.6" y2="70.9" stroke="#0000ff" stroke-width="0.7"/>
<polygon points="479.7,67.7 478.8,71.4 482.4,70.4" fill="#0000ff"/>
<circle cx="437.0" cy="65.6" r="1.3" fill="#0000ff"/>
<line x1="437.0" y1="65.6" x2="440.4" y2="67.0" stroke="#0000ff" stroke-width="0.7"/>
<polygon points="443.5,68.3 441.1,65.2 439.7,68.7" fill="#0000ff"/>
<circle cx="371.6" cy="98.4" r="1.3" fill="#ff0000"/>
<line x1="371.6" y1="98.4" x2="375.2" y2="98.9" stroke="#ff0000" stroke-width="0.7"/>
<polygon points="378.6,99.3 375.5,97.0 374.9,100.7" fill="#ff0000"/>
<circle cx="384.5" cy="117.2" r="1.3" fill="#0000ff"/>
<line x1="384.5" y1="117.2" x2="381.3" y2="118.9" stroke="#0000ff" stroke-width="0.7"/>
<polygon points="378.3,120.5 382.2,120.6 380.4,117.3" fill="#0000ff"/>
<circle cx="416.4" cy="101.8" r="1.3" fill="#ff0000"/>
<line x1="416.4" y1="101.8" x2="413.9" y2="99.3" stroke="#ff0000" stroke-width="0.7"/>
<polygon points="411.5,96.9 412.5,100.6 415.2,97.9" fill="#ff0000"/>
<circle cx="411.8" cy="140.4" r="1.3" fill="#ff0000"/>
<line x1="411.8" y1="140.4" x2="411.0" y2="136.9" stroke="#ff0000" stroke-width="0.7"/>
<polygon points="410.2,133.6 409.1,137.3 412.8,136.4" fill="#ff0000"/>
<circle cx="437.6" cy="89.3" r="1.3" fill="#0000ff"/>
<line x1="437.6" y1="89.3" x2="440.8" y2="87.6" stroke="#0000ff" stroke-width="0.7"/>
<polygon points="443.8,86.0 439.9,85.9 441.6,89.3" fill="#0000ff"/>
<circle cx="457.9" cy="112.5" r="1.3" fill="#0000ff"/>
<line x1="457.9" y1="112.5" x2="454.3" y2="112.7" stroke="#0000ff" stroke-width="0.7"/>
<polygon points="451.0,112.9 454.5,114.6 454.2,110.8" fill="#0000ff"/>
<circle cx="449.1" cy="127.9" r="1.3" fill="#0000ff"/>
<line x1="449.1" y1="127.9" x2="446.6" y2="130.5" stroke="#0000ff" stroke-width="0.7"/>
<polygon points="444.2,132.9 448.0,131.8 445.2,129.1" fill="#0000ff"/>
<path d="M400.7,83.5L404.3,87.1M400.7,87.1L404.3,83.5" stroke="#000" stroke-width="1.2"/>
<path d="M404.1,81.7L407.7,85.3M404.1,85.3L407.7,81.7" stroke="#0000ff" stroke-width="1.2"/>
<path d="M405.4,82.1L409.0,85.7M405.4,85.7L409.0,82.1" stroke="#0000ff" stroke-width="1.2"/>
<path d="M406.6,81.5L410.2,85.1M406.6,85.1L410.2,81.5" stroke="#0000ff" stroke-width="1.2"/>
<path d="M404.7,80.0L408.3,83.6M404.7,83.6L408.3,80.0" stroke="#0000ff" stroke-width="1.2"/>
<path d="M406.1,79.8L409.7,83.4M406.1,83.4L409.7,79.8" stroke="#0000ff" stroke-width="1.2"/>
<path d="M405.2,80.9L408.8,84.5M405.2,84.5L408.8,80.9" stroke="#0000ff" stroke-width="1.2"/>
<path d="M404.3,79.6L407.9,83.2M404.3,83.2L407.9,79.6" stroke="#0000ff" stroke-width="1.2"/>
<path d="M406.4,80.4L410.0,84.0M406.4,84.0L410.0,80.4" stroke="#0000ff" stroke-width="1.2"/>
</g>
<path d="M503.5,13.5H369.5V146.5H503.5" fill="none" stroke="#6c6c6c" stroke-width="1"/>
<path d="M503.5,13V147" fill="none" stroke="#a4a4a4" stroke-width="1"/>
<path d="M369.5,146v-1.5M369.5,14v1.5M370,146.5h1.5M503,146.5h-1.5M396.3,146v-1.5M396.3,14v1.5M370,119.9h1.5M503,119.9h-1.5M423.1,146v-1.5M423.1,14v1.5M370,93.3h1.5M503,93.3h-1.5M449.9,146v-1.5M449.9,14v1.5M370,66.7h1.5M503,66.7h-1.5M476.7,146v-1.5M476.7,14v1.5M370,40.1h1.5M503,40.1h-1.5M503.5,146v-1.5M503.5,14v1.5M370,13.5h1.5M503,13.5h-1.5" stroke="#6c6c6c" stroke-width="1"/>
<g clip-path="url(#c3)">
<polygon points="649.71,23.08 657.71,-68.34 574.53,-29.56" fill="rgb(0,0,255)" fill-opacity="0.115"/>
<polygon points="658.49,25.74 567.12,17.10 605.33,100.54" fill="rgb(0,0,255)" fill-opacity="0.115"/>
<polygon points="639.07,40.63 727.28,65.93 705.08,-23.12" fill="rgb(0,0,255)" fill-opacity="0.115"/>
<polygon points="624.17,54.73 587.73,-33.25 529.76,42.30" fill="rgb(0,0,255)" fill-opacity="0.115"/>
<polygon points="657.16,53.67 743.39,22.28 673.09,-36.71" fill="rgb(0,0,255)" fill-opacity="0.115"/>
<polygon points="637.21,61.91 588.58,139.74 680.29,142.94" fill="rgb(0,0,255)" fill-opacity="0.115"/>
<polygon points="657.69,74.41 681.44,-14.23 592.80,9.52" fill="rgb(0,0,255)" fill-opacity="0.115"/>
<polygon points="613.53,65.64 670.03,137.95 704.41,52.86" fill="rgb(0,0,255)" fill-opacity="0.115"/>
<polygon points="548.63,98.35 620.94,154.85 633.72,63.98" fill="rgb(255,0,0)" fill-opacity="0.13"/>
<polygon points="561.40,117.24 469.68,114.04 512.77,195.07" fill="rgb(0,0,255)" fill-opacity="0.115"/>
<polygon points="593.05,101.81 569.30,13.17 504.41,78.06" fill="rgb(255,0,0)" fill-opacity="0.13"/>
<polygon points="588.53,140.38 613.82,52.17 524.78,74.37" fill="rgb(255,0,0)" fill-opacity="0.13"/>
<polygon points="614.06,89.31 705.78,92.51 662.69,11.48" fill="rgb(0,0,255)" fill-opacity="0.115"/>
<polygon points="634.28,112.45 551.80,72.22 558.20,163.77" fill="rgb(0,0,255)" fill-opacity="0.115"/>
<polygon points="625.50,127.88 537.29,153.18 603.30,216.92" fill="rgb(0,0,255)" fill-opacity="0.115"/>
<line x1="649.7" y1="23.1" x2="658.5" y2="25.7" stroke="#0000ff" stroke-width="0.75" stroke-dasharray="0.8 2.4" stroke-opacity="0.5"/>
<line x1="649.7" y1="23.1" x2="639.1" y2="40.6" stroke="#0000ff" stroke-width="0.75" stroke-dasharray="0.8 2.4" stroke-opacity="0.5"/>
<line x1="649.7" y1="23.1" x2="624.2" y2="54.7" stroke="#0000ff" stroke-width="0.75" stroke-dasharray="0.8 2.4" stroke-opacity="0.5"/>
<line x1="649.7" y1="23.1" x2="657.2" y2="53.7" stroke="#0000ff" stroke-width="0.75" stroke-dasharray="0.8 2.4" stroke-opacity="0.5"/>
<line x1="649.7" y1="23.1" x2="637.2" y2="61.9" stroke="#0000ff" stroke-width="0.75" stroke-dasharray="0.8 2.4" stroke-opacity="0.5"/>
<line x1="649.7" y1="23.1" x2="657.7" y2="74.4" stroke="#0000ff" stroke-width="0.75" stroke-dasharray="0.8 2.4" stroke-opacity="0.5"/>
<line x1="658.5" y1="25.7" x2="639.1" y2="40.6" stroke="#0000ff" stroke-width="0.75" stroke-dasharray="0.8 2.4" stroke-opacity="0.5"/>
<line x1="658.5" y1="25.7" x2="624.2" y2="54.7" stroke="#0000ff" stroke-width="0.75" stroke-dasharray="0.8 2.4" stroke-opacity="0.5"/>
<line x1="658.5" y1="25.7" x2="657.2" y2="53.7" stroke="#0000ff" stroke-width="0.75" stroke-dasharray="0.8 2.4" stroke-opacity="0.5"/>
<line x1="658.5" y1="25.7" x2="637.2" y2="61.9" stroke="#0000ff" stroke-width="0.75" stroke-dasharray="0.8 2.4" stroke-opacity="0.5"/>
<line x1="658.5" y1="25.7" x2="657.7" y2="74.4" stroke="#0000ff" stroke-width="0.75" stroke-dasharray="0.8 2.4" stroke-opacity="0.5"/>
<line x1="639.1" y1="40.6" x2="624.2" y2="54.7" stroke="#0000ff" stroke-width="0.75" stroke-dasharray="0.8 2.4" stroke-opacity="0.5"/>
<line x1="639.1" y1="40.6" x2="657.2" y2="53.7" stroke="#0000ff" stroke-width="0.75" stroke-dasharray="0.8 2.4" stroke-opacity="0.5"/>
<line x1="639.1" y1="40.6" x2="637.2" y2="61.9" stroke="#0000ff" stroke-width="0.75" stroke-dasharray="0.8 2.4" stroke-opacity="0.5"/>
<line x1="639.1" y1="40.6" x2="657.7" y2="74.4" stroke="#0000ff" stroke-width="0.75" stroke-dasharray="0.8 2.4" stroke-opacity="0.5"/>
<line x1="639.1" y1="40.6" x2="613.5" y2="65.6" stroke="#0000ff" stroke-width="0.75" stroke-dasharray="0.8 2.4" stroke-opacity="0.5"/>
<line x1="624.2" y1="54.7" x2="657.2" y2="53.7" stroke="#0000ff" stroke-width="0.75" stroke-dasharray="0.8 2.4" stroke-opacity="0.5"/>
<line x1="624.2" y1="54.7" x2="637.2" y2="61.9" stroke="#0000ff" stroke-width="0.75" stroke-dasharray="0.8 2.4" stroke-opacity="0.5"/>
<line x1="624.2" y1="54.7" x2="657.7" y2="74.4" stroke="#0000ff" stroke-width="0.75" stroke-dasharray="0.8 2.4" stroke-opacity="0.5"/>
<line x1="624.2" y1="54.7" x2="613.5" y2="65.6" stroke="#0000ff" stroke-width="0.75" stroke-dasharray="0.8 2.4" stroke-opacity="0.5"/>
<line x1="624.2" y1="54.7" x2="614.1" y2="89.3" stroke="#0000ff" stroke-width="0.75" stroke-dasharray="0.8 2.4" stroke-opacity="0.5"/>
<line x1="657.2" y1="53.7" x2="637.2" y2="61.9" stroke="#0000ff" stroke-width="0.75" stroke-dasharray="0.8 2.4" stroke-opacity="0.5"/>
<line x1="657.2" y1="53.7" x2="657.7" y2="74.4" stroke="#0000ff" stroke-width="0.75" stroke-dasharray="0.8 2.4" stroke-opacity="0.5"/>
<line x1="657.2" y1="53.7" x2="613.5" y2="65.6" stroke="#0000ff" stroke-width="0.75" stroke-dasharray="0.8 2.4" stroke-opacity="0.5"/>
<line x1="637.2" y1="61.9" x2="657.7" y2="74.4" stroke="#0000ff" stroke-width="0.75" stroke-dasharray="0.8 2.4" stroke-opacity="0.5"/>
<line x1="637.2" y1="61.9" x2="613.5" y2="65.6" stroke="#0000ff" stroke-width="0.75" stroke-dasharray="0.8 2.4" stroke-opacity="0.5"/>
<line x1="637.2" y1="61.9" x2="614.1" y2="89.3" stroke="#0000ff" stroke-width="0.75" stroke-dasharray="0.8 2.4" stroke-opacity="0.5"/>
<line x1="637.2" y1="61.9" x2="634.3" y2="112.5" stroke="#0000ff" stroke-width="0.75" stroke-dasharray="0.8 2.4" stroke-opacity="0.5"/>
<line x1="657.7" y1="74.4" x2="613.5" y2="65.6" stroke="#0000ff" stroke-width="0.75" stroke-dasharray="0.8 2.4" stroke-opacity="0.5"/>
<line x1="657.7" y1="74.4" x2="614.1" y2="89.3" stroke="#0000ff" stroke-width="0.75" stroke-dasharray="0.8 2.4" stroke-opacity="0.5"/>
<line x1="657.7" y1="74.4" x2="634.3" y2="112.5" stroke="#0000ff" stroke-width="0.75" stroke-dasharray="0.8 2.4" stroke-opacity="0.5"/>
<line x1="613.5" y1="65.6" x2="593.0" y2="101.8" stroke="#0000ff" stroke-width="0.75" stroke-dasharray="0.8 2.4" stroke-opacity="0.5"/>
<line x1="613.5" y1="65.6" x2="614.1" y2="89.3" stroke="#0000ff" stroke-width="0.75" stroke-dasharray="0.8 2.4" stroke-opacity="0.5"/>
<line x1="613.5" y1="65.6" x2="634.3" y2="112.5" stroke="#0000ff" stroke-width="0.75" stroke-dasharray="0.8 2.4" stroke-opacity="0.5"/>
<line x1="548.6" y1="98.4" x2="561.4" y2="117.2" stroke="#0000ff" stroke-width="0.75" stroke-dasharray="0.8 2.4" stroke-opacity="0.5"/>
<line x1="548.6" y1="98.4" x2="593.0" y2="101.8" stroke="#0000ff" stroke-width="0.75" stroke-dasharray="0.8 2.4" stroke-opacity="0.5"/>
<line x1="561.4" y1="117.2" x2="593.0" y2="101.8" stroke="#0000ff" stroke-width="0.75" stroke-dasharray="0.8 2.4" stroke-opacity="0.5"/>
<line x1="561.4" y1="117.2" x2="588.5" y2="140.4" stroke="#0000ff" stroke-width="0.75" stroke-dasharray="0.8 2.4" stroke-opacity="0.5"/>
<line x1="593.0" y1="101.8" x2="588.5" y2="140.4" stroke="#0000ff" stroke-width="0.75" stroke-dasharray="0.8 2.4" stroke-opacity="0.5"/>
<line x1="593.0" y1="101.8" x2="614.1" y2="89.3" stroke="#0000ff" stroke-width="0.75" stroke-dasharray="0.8 2.4" stroke-opacity="0.5"/>
<line x1="593.0" y1="101.8" x2="634.3" y2="112.5" stroke="#0000ff" stroke-width="0.75" stroke-dasharray="0.8 2.4" stroke-opacity="0.5"/>
<line x1="593.0" y1="101.8" x2="625.5" y2="127.9" stroke="#0000ff" stroke-width="0.75" stroke-dasharray="0.8 2.4" stroke-opacity="0.5"/>
<line x1="588.5" y1="140.4" x2="625.5" y2="127.9" stroke="#0000ff" stroke-width="0.75" stroke-dasharray="0.8 2.4" stroke-opacity="0.5"/>
<line x1="614.1" y1="89.3" x2="634.3" y2="112.5" stroke="#0000ff" stroke-width="0.75" stroke-dasharray="0.8 2.4" stroke-opacity="0.5"/>
<line x1="614.1" y1="89.3" x2="625.5" y2="127.9" stroke="#0000ff" stroke-width="0.75" stroke-dasharray="0.8 2.4" stroke-opacity="0.5"/>
<line x1="634.3" y1="112.5" x2="625.5" y2="127.9" stroke="#0000ff" stroke-width="0.75" stroke-dasharray="0.8 2.4" stroke-opacity="0.5"/>
<circle cx="649.7" cy="23.1" r="1.3" fill="#0000ff"/>
<line x1="649.7" y1="23.1" x2="648.2" y2="19.8" stroke="#0000ff" stroke-width="0.7"/>
<polygon points="646.7,16.7 646.5,20.6 649.9,19.0" fill="#0000ff"/>
<circle cx="658.5" cy="25.7" r="1.3" fill="#0000ff"/>
<line x1="658.5" y1="25.7" x2="655.2" y2="27.2" stroke="#0000ff" stroke-width="0.7"/>
<polygon points="652.1,28.6 656.0,29.0 654.4,25.5" fill="#0000ff"/>
<circle cx="639.1" cy="40.6" r="1.3" fill="#0000ff"/>
<line x1="639.1" y1="40.6" x2="642.6" y2="39.8" stroke="#0000ff" stroke-width="0.7"/>
<polygon points="645.9,38.9 642.1,37.9 643.0,41.6" fill="#0000ff"/>
<circle cx="624.2" cy="54.7" r="1.3" fill="#0000ff"/>
<line x1="624.2" y1="54.7" x2="621.3" y2="52.5" stroke="#0000ff" stroke-width="0.7"/>
<polygon points="618.6,50.5 620.2,54.0 622.5,51.0" fill="#0000ff"/>
<circle cx="657.2" cy="53.7" r="1.3" fill="#0000ff"/>
<line x1="657.2" y1="53.7" x2="659.5" y2="50.9" stroke="#0000ff" stroke-width="0.7"/>
<polygon points="661.7,48.3 658.0,49.7 660.9,52.1" fill="#0000ff"/>
<circle cx="637.2" cy="61.9" r="1.3" fill="#0000ff"/>
<line x1="637.2" y1="61.9" x2="637.1" y2="65.5" stroke="#0000ff" stroke-width="0.7"/>
<polygon points="637.0,68.9 639.0,65.6 635.2,65.4" fill="#0000ff"/>
<circle cx="657.7" cy="74.4" r="1.3" fill="#0000ff"/>
<line x1="657.7" y1="74.4" x2="656.8" y2="70.9" stroke="#0000ff" stroke-width="0.7"/>
<polygon points="655.9,67.7 654.9,71.4 658.6,70.4" fill="#0000ff"/>
<circle cx="613.5" cy="65.6" r="1.3" fill="#0000ff"/>
<line x1="613.5" y1="65.6" x2="616.9" y2="67.0" stroke="#0000ff" stroke-width="0.7"/>
<polygon points="620.0,68.3 617.6,65.2 616.2,68.7" fill="#0000ff"/>
<circle cx="548.6" cy="98.4" r="1.3" fill="#ff0000"/>
<line x1="548.6" y1="98.4" x2="552.2" y2="98.9" stroke="#ff0000" stroke-width="0.7"/>
<polygon points="555.6,99.3 552.5,97.0 551.9,100.7" fill="#ff0000"/>
<circle cx="561.4" cy="117.2" r="1.3" fill="#0000ff"/>
<line x1="561.4" y1="117.2" x2="558.2" y2="118.9" stroke="#0000ff" stroke-width="0.7"/>
<polygon points="555.2,120.5 559.1,120.6 557.3,117.3" fill="#0000ff"/>
<circle cx="593.0" cy="101.8" r="1.3" fill="#ff0000"/>
<line x1="593.0" y1="101.8" x2="590.5" y2="99.3" stroke="#ff0000" stroke-width="0.7"/>
<polygon points="588.1,96.9 589.2,100.6 591.8,97.9" fill="#ff0000"/>
<circle cx="588.5" cy="140.4" r="1.3" fill="#ff0000"/>
<line x1="588.5" y1="140.4" x2="587.7" y2="136.9" stroke="#ff0000" stroke-width="0.7"/>
<polygon points="586.8,133.6 585.8,137.3 589.5,136.4" fill="#ff0000"/>
<circle cx="614.1" cy="89.3" r="1.3" fill="#0000ff"/>
<line x1="614.1" y1="89.3" x2="617.2" y2="87.6" stroke="#0000ff" stroke-width="0.7"/>
<polygon points="620.2,86.0 616.4,85.9 618.1,89.3" fill="#0000ff"/>
<circle cx="634.3" cy="112.5" r="1.3" fill="#0000ff"/>
<line x1="634.3" y1="112.5" x2="630.7" y2="112.7" stroke="#0000ff" stroke-width="0.7"/>
<polygon points="627.3,112.9 630.8,114.6 630.6,110.8" fill="#0000ff"/>
<circle cx="625.5" cy="127.9" r="1.3" fill="#0000ff"/>
<line x1="625.5" y1="127.9" x2="623.0" y2="130.5" stroke="#0000ff" stroke-width="0.7"/>
<polygon points="620.6,132.9 624.4,131.8 621.6,129.1" fill="#0000ff"/>
<path d="M580.3,84.6L583.9,88.2M580.3,88.2L583.9,84.6" stroke="#000" stroke-width="1.2"/>
<path d="M580.6,87.9L584.2,91.5M580.6,91.5L584.2,87.9" stroke="#0000ff" stroke-width="1.2"/>
<path d="M582.6,88.4L586.2,92.0M582.6,92.0L586.2,88.4" stroke="#0000ff" stroke-width="1.2"/>
<path d="M584.6,87.7L588.2,91.3M584.6,91.3L588.2,87.7" stroke="#0000ff" stroke-width="1.2"/>
<path d="M581.5,86.0L585.1,89.6M581.5,89.6L585.1,86.0" stroke="#0000ff" stroke-width="1.2"/>
<path d="M583.7,85.8L587.3,89.4M583.7,89.4L587.3,85.8" stroke="#0000ff" stroke-width="1.2"/>
<path d="M582.3,87.0L585.9,90.6M582.3,90.6L585.9,87.0" stroke="#0000ff" stroke-width="1.2"/>
<path d="M580.9,85.5L584.5,89.1M580.9,89.1L584.5,85.5" stroke="#0000ff" stroke-width="1.2"/>
<path d="M584.3,86.5L587.9,90.1M584.3,90.1L587.9,86.5" stroke="#0000ff" stroke-width="1.2"/>
</g>
<path d="M679.5,13.5H546.5V146.5H679.5" fill="none" stroke="#6c6c6c" stroke-width="1"/>
<path d="M679.5,13V147" fill="none" stroke="#a4a4a4" stroke-width="1"/>
<path d="M546.5,146v-1.5M546.5,14v1.5M547,146.5h1.5M679,146.5h-1.5M573.1,146v-1.5M573.1,14v1.5M547,119.9h1.5M679,119.9h-1.5M599.7,146v-1.5M599.7,14v1.5M547,93.3h1.5M679,93.3h-1.5M626.3,146v-1.5M626.3,14v1.5M547,66.7h1.5M679,66.7h-1.5M652.9,146v-1.5M652.9,14v1.5M547,40.1h1.5M679,40.1h-1.5M679.5,146v-1.5M679.5,14v1.5M547,13.5h1.5M679,13.5h-1.5" stroke="#6c6c6c" stroke-width="1"/>
<g clip-path="url(#c4)">
<polygon points="120.71,191.11 128.71,99.35 45.53,138.28" fill="rgb(0,0,255)" fill-opacity="0.115"/>
<polygon points="129.49,193.78 38.12,185.11 76.33,268.87" fill="rgb(0,0,255)" fill-opacity="0.115"/>
<polygon points="110.07,208.73 198.28,234.12 176.08,144.75" fill="rgb(0,0,255)" fill-opacity="0.115"/>
<polygon points="95.17,222.88 58.73,134.58 0.76,210.41" fill="rgb(0,0,255)" fill-opacity="0.115"/>
<polygon points="128.16,221.82 214.39,190.31 144.09,131.10" fill="rgb(0,0,255)" fill-opacity="0.115"/>
<polygon points="108.21,230.09 59.58,308.21 151.29,311.43" fill="rgb(0,0,255)" fill-opacity="0.115"/>
<polygon points="128.69,242.64 152.44,153.67 63.80,177.51" fill="rgb(0,0,255)" fill-opacity="0.115"/>
<polygon points="84.53,233.83 141.03,306.42 175.41,221.01" fill="rgb(0,0,255)" fill-opacity="0.115"/>
<polygon points="19.63,266.67 91.94,323.38 104.72,232.17" fill="rgb(255,0,0)" fill-opacity="0.13"/>
<polygon points="32.40,285.63 -59.32,282.42 -16.23,363.75" fill="rgb(0,0,255)" fill-opacity="0.115"/>
<polygon points="64.05,270.14 40.30,181.17 -24.59,246.30" fill="rgb(0,0,255)" fill-opacity="0.115"/>
<polygon points="59.53,308.86 84.82,220.31 -4.22,242.60" fill="rgb(255,0,0)" fill-opacity="0.13"/>
<polygon points="85.06,257.60 176.78,260.81 133.69,179.48" fill="rgb(0,0,255)" fill-opacity="0.115"/>
<polygon points="105.28,280.82 22.80,240.44 29.20,332.33" fill="rgb(0,0,255)" fill-opacity="0.115"/>
<polygon points="96.50,296.31 8.29,321.70 74.30,385.69" fill="rgb(0,0,255)" fill-opacity="0.115"/>
<line x1="120.7" y1="191.1" x2="129.5" y2="193.8" stroke="#0000ff" stroke-width="0.75" stroke-dasharray="0.8 2.4" stroke-opacity="0.5"/>
<line x1="120.7" y1="191.1" x2="110.1" y2="208.7" stroke="#0000ff" stroke-width="0.75" stroke-dasharray="0.8 2.4" stroke-opacity="0.5"/>
<line x1="120.7" y1="191.1" x2="95.2" y2="222.9" stroke="#0000ff" stroke-width="0.75" stroke-dasharray="0.8 2.4" stroke-opacity="0.5"/>
<line x1="120.7" y1="191.1" x2="128.2" y2="221.8" stroke="#0000ff" stroke-width="0.75" stroke-dasharray="0.8 2.4" stroke-opacity="0.5"/>
<line x1="120.7" y1="191.1" x2="108.2" y2="230.1" stroke="#0000ff" stroke-width="0.75" stroke-dasharray="0.8 2.4" stroke-opacity="0.5"/>
<line x1="120.7" y1="191.1" x2="128.7" y2="242.6" stroke="#0000ff" stroke-width="0.75" stroke-dasharray="0.8 2.4" stroke-opacity="0.5"/>
<line x1="129.5" y1="193.8" x2="110.1" y2="208.7" stroke="#0000ff" stroke-width="0.75" stroke-dasharray="0.8 2.4" stroke-opacity="0.5"/>
<line x1="129.5" y1="193.8" x2="95.2" y2="222.9" stroke="#0000ff" stroke-width="0.75" stroke-dasharray="0.8 2.4" stroke-opacity="0.5"/>
<line x1="129.5" y1="193.8" x2="128.2" y2="221.8" stroke="#0000ff" stroke-width="0.75" stroke-dasharray="0.8 2.4" stroke-opacity="0.5"/>
<line x1="129.5" y1="193.8" x2="108.2" y2="230.1" stroke="#0000ff" stroke-width="0.75" stroke-dasharray="0.8 2.4" stroke-opacity="0.5"/>
<line x1="129.5" y1="193.8" x2="128.7" y2="242.6" stroke="#0000ff" stroke-width="0.75" stroke-dasharray="0.8 2.4" stroke-opacity="0.5"/>
<line x1="110.1" y1="208.7" x2="95.2" y2="222.9" stroke="#0000ff" stroke-width="0.75" stroke-dasharray="0.8 2.4" stroke-opacity="0.5"/>
<line x1="110.1" y1="208.7" x2="128.2" y2="221.8" stroke="#0000ff" stroke-width="0.75" stroke-dasharray="0.8 2.4" stroke-opacity="0.5"/>
<line x1="110.1" y1="208.7" x2="108.2" y2="230.1" stroke="#0000ff" stroke-width="0.75" stroke-dasharray="0.8 2.4" stroke-opacity="0.5"/>
<line x1="110.1" y1="208.7" x2="128.7" y2="242.6" stroke="#0000ff" stroke-width="0.75" stroke-dasharray="0.8 2.4" stroke-opacity="0.5"/>
<line x1="110.1" y1="208.7" x2="84.5" y2="233.8" stroke="#0000ff" stroke-width="0.75" stroke-dasharray="0.8 2.4" stroke-opacity="0.5"/>
<line x1="95.2" y1="222.9" x2="128.2" y2="221.8" stroke="#0000ff" stroke-width="0.75" stroke-dasharray="0.8 2.4" stroke-opacity="0.5"/>
<line x1="95.2" y1="222.9" x2="108.2" y2="230.1" stroke="#0000ff" stroke-width="0.75" stroke-dasharray="0.8 2.4" stroke-opacity="0.5"/>
<line x1="95.2" y1="222.9" x2="128.7" y2="242.6" stroke="#0000ff" stroke-width="0.75" stroke-dasharray="0.8 2.4" stroke-opacity="0.5"/>
<line x1="95.2" y1="222.9" x2="84.5" y2="233.8" stroke="#0000ff" stroke-width="0.75" stroke-dasharray="0.8 2.4" stroke-opacity="0.5"/>
<line x1="95.2" y1="222.9" x2="85.1" y2="257.6" stroke="#0000ff" stroke-width="0.75" stroke-dasharray="0.8 2.4" stroke-opacity="0.5"/>
<line x1="128.2" y1="221.8" x2="108.2" y2="230.1" stroke="#0000ff" stroke-width="0.75" stroke-dasharray="0.8 2.4" stroke-opacity="0.5"/>
<line x1="128.2" y1="221.8" x2="128.7" y2="242.6" stroke="#0000ff" stroke-width="0.75" stroke-dasharray="0.8 2.4" stroke-opacity="0.5"/>
<line x1="128.2" y1="221.8" x2="84.5" y2="233.8" stroke="#0000ff" stroke-width="0.75" stroke-dasharray="0.8 2.4" stroke-opacity="0.5"/>
<line x1="108.2" y1="230.1" x2="128.7" y2="242.6" stroke="#0000ff" stroke-width="0.75" stroke-dasharray="0.8 2.4" stroke-opacity="0.5"/>
<line x1="108.2" y1="230.1" x2="84.5" y2="233.8" stroke="#0000ff" stroke-width="0.75" stroke-dasharray="0.8 2.4" stroke-opacity="0.5"/>
<line x1="108.2" y1="230.1" x2="85.1" y2="257.6" stroke="#0000ff" stroke-width="0.75" stroke-dasharray="0.8 2.4" stroke-opacity="0.5"/>
<line x1="108.2" y1="230.1" x2="105.3" y2="280.8" stroke="#0000ff" stroke-width="0.75" stroke-dasharray="0.8 2.4" stroke-opacity="0.5"/>
<line x1="128.7" y1="242.6" x2="84.5" y2="233.8" stroke="#0000ff" stroke-width="0.75" stroke-dasharray="0.8 2.4" stroke-opacity="0.5"/>
<line x1="128.7" y1="242.6" x2="85.1" y2="257.6" stroke="#0000ff" stroke-width="0.75" stroke-dasharray="0.8 2.4" stroke-opacity="0.5"/>
<line x1="128.7" y1="242.6" x2="105.3" y2="280.8" stroke="#0000ff" stroke-width="0.75" stroke-dasharray="0.8 2.4" stroke-opacity="0.5"/>
<line x1="84.5" y1="233.8" x2="64.0" y2="270.1" stroke="#0000ff" stroke-width="0.75" stroke-dasharray="0.8 2.4" stroke-opacity="0.5"/>
<line x1="84.5" y1="233.8" x2="85.1" y2="257.6" stroke="#0000ff" stroke-width="0.75" stroke-dasharray="0.8 2.4" stroke-opacity="0.5"/>
<line x1="84.5" y1="233.8" x2="105.3" y2="280.8" stroke="#0000ff" stroke-width="0.75" stroke-dasharray="0.8 2.4" stroke-opacity="0.5"/>
<line x1="19.6" y1="266.7" x2="32.4" y2="285.6" stroke="#0000ff" stroke-width="0.75" stroke-dasharray="0.8 2.4" stroke-opacity="0.5"/>
<line x1="19.6" y1="266.7" x2="64.0" y2="270.1" stroke="#0000ff" stroke-width="0.75" stroke-dasharray="0.8 2.4" stroke-opacity="0.5"/>
<line x1="32.4" y1="285.6" x2="64.0" y2="270.1" stroke="#0000ff" stroke-width="0.75" stroke-dasharray="0.8 2.4" stroke-opacity="0.5"/>
<line x1="32.4" y1="285.6" x2="59.5" y2="308.9" stroke="#0000ff" stroke-width="0.75" stroke-dasharray="0.8 2.4" stroke-opacity="0.5"/>
<line x1="64.0" y1="270.1" x2="59.5" y2="308.9" stroke="#0000ff" stroke-width="0.75" stroke-dasharray="0.8 2.4" stroke-opacity="0.5"/>
<line x1="64.0" y1="270.1" x2="85.1" y2="257.6" stroke="#0000ff" stroke-width="0.75" stroke-dasharray="0.8 2.4" stroke-opacity="0.5"/>
<line x1="64.0" y1="270.1" x2="105.3" y2="280.8" stroke="#0000ff" stroke-width="0.75" stroke-dasharray="0.8 2.4" stroke-opacity="0.5"/>
<line x1="64.0" y1="270.1" x2="96.5" y2="296.3" stroke="#0000ff" stroke-width="0.75" stroke-dasharray="0.8 2.4" stroke-opacity="0.5"/>
<line x1="59.5" y1="308.9" x2="96.5" y2="296.3" stroke="#0000ff" stroke-width="0.75" stroke-dasharray="0.8 2.4" stroke-opacity="0.5"/>
<line x1="85.1" y1="257.6" x2="105.3" y2="280.8" stroke="#0000ff" stroke-width="0.75" stroke-dasharray="0.8 2.4" stroke-opacity="0.5"/>
<line x1="85.1" y1="257.6" x2="96.5" y2="296.3" stroke="#0000ff" stroke-width="0.75" stroke-dasharray="0.8 2.4" stroke-opacity="0.5"/>
<line x1="105.3" y1="280.8" x2="96.5" y2="296.3" stroke="#0000ff" stroke-width="0.75" stroke-dasharray="0.8 2.4" stroke-opacity="0.5"/>
<circle cx="120.7" cy="191.1" r="1.3" fill="#0000ff"/>
<line x1="120.7" y1="191.1" x2="119.2" y2="187.8" stroke="#0000ff" stroke-width="0.7"/>
<polygon points="117.7,184.8 117.5,188.7 120.9,187.0" fill="#0000ff"/>
<circle cx="129.5" cy="193.8" r="1.3" fill="#0000ff"/>
<line x1="129.5" y1="193.8" x2="126.2" y2="195.3" stroke="#0000ff" stroke-width="0.7"/>
<polygon points="123.1,196.7 127.0,197.0 125.4,193.6" fill="#0000ff"/>
<circle cx="110.1" cy="208.7" r="1.3" fill="#0000ff"/>
<line x1="110.1" y1="208.7" x2="113.6" y2="207.9" stroke="#0000ff" stroke-width="0.7"/>
<polygon points="116.9,207.0 113.1,206.0 114.0,209.7" fill="#0000ff"/>
<circle cx="95.2" cy="222.9" r="1.3" fill="#0000ff"/>
<line x1="95.2" y1="222.9" x2="92.3" y2="220.7" stroke="#0000ff" stroke-width="0.7"/>
<polygon points="89.6,218.6 91.2,222.2 93.5,219.2" fill="#0000ff"/>
<circle cx="128.2" cy="221.8" r="1.3" fill="#0000ff"/>
<line x1="128.2" y1="221.8" x2="130.5" y2="219.1" stroke="#0000ff" stroke-width="0.7"/>
<polygon points="132.7,216.5 129.0,217.8 131.9,220.3" fill="#0000ff"/>
<circle cx="108.2" cy="230.1" r="1.3" fill="#0000ff"/>
<line x1="108.2" y1="230.1" x2="108.1" y2="233.7" stroke="#0000ff" stroke-width="0.7"/>
<polygon points="108.0,237.1 110.0,233.8 106.2,233.6" fill="#0000ff"/>
<circle cx="128.7" cy="242.6" r="1.3" fill="#0000ff"/>
<line x1="128.7" y1="242.6" x2="127.8" y2="239.2" stroke="#0000ff" stroke-width="0.7"/>
<polygon points="126.9,235.9 125.9,239.7 129.6,238.7" fill="#0000ff"/>
<circle cx="84.5" cy="233.8" r="1.3" fill="#0000ff"/>
<line x1="84.5" y1="233.8" x2="87.9" y2="235.2" stroke="#0000ff" stroke-width="0.7"/>
<polygon points="91.0,236.5 88.6,233.4 87.2,236.9" fill="#0000ff"/>
<circle cx="19.6" cy="266.7" r="1.3" fill="#ff0000"/>
<line x1="19.6" y1="266.7" x2="23.2" y2="267.2" stroke="#ff0000" stroke-width="0.7"/>
<polygon points="26.6,267.6 23.5,265.3 22.9,269.1" fill="#ff0000"/>
<circle cx="32.4" cy="285.6" r="1.3" fill="#0000ff"/>
<line x1="32.4" y1="285.6" x2="29.2" y2="287.3" stroke="#0000ff" stroke-width="0.7"/>
<polygon points="26.2,288.9 30.1,289.0 28.3,285.6" fill="#0000ff"/>
<circle cx="64.0" cy="270.1" r="1.3" fill="#0000ff"/>
<line x1="64.0" y1="270.1" x2="61.5" y2="267.6" stroke="#0000ff" stroke-width="0.7"/>
<polygon points="59.1,265.2 60.2,268.9 62.8,266.3" fill="#0000ff"/>
<circle cx="59.5" cy="308.9" r="1.3" fill="#ff0000"/>
<line x1="59.5" y1="308.9" x2="58.7" y2="305.4" stroke="#ff0000" stroke-width="0.7"/>
<polygon points="57.8,302.1 56.8,305.8 60.5,304.9" fill="#ff0000"/>
<circle cx="85.1" cy="257.6" r="1.3" fill="#0000ff"/>
<line x1="85.1" y1="257.6" x2="88.2" y2="255.9" stroke="#0000ff" stroke-width="0.7"/>
<polygon points="91.2,254.3 87.4,254.2 89.1,257.6" fill="#0000ff"/>
<circle cx="105.3" cy="280.8" r="1.3" fill="#0000ff"/>
<line x1="105.3" y1="280.8" x2="101.7" y2="281.1" stroke="#0000ff" stroke-width="0.7"/>
<polygon points="98.3,281.3 101.8,283.0 101.6,279.2" fill="#0000ff"/>
<circle cx="96.5" cy="296.3" r="1.3" fill="#0000ff"/>
<line x1="96.5" y1="296.3" x2="94.0" y2="298.9" stroke="#0000ff" stroke-width="0.7"/>
<polygon points="91.6,301.3 95.4,300.2 92.6,297.6" fill="#0000ff"/>
<path d="M58.8,257.2L62.4,260.8M58.8,260.8L62.4,257.2" stroke="#0000ff" stroke-width="1.2"/>
<path d="M61.2,257.8L64.8,261.4M61.2,261.4L64.8,257.8" stroke="#0000ff" stroke-width="1.2"/>
<path d="M63.6,256.8L67.2,260.4M63.6,260.4L67.2,256.8" stroke="#0000ff" stroke-width="1.2"/>
<path d="M59.8,254.7L63.4,258.3M59.8,258.3L63.4,254.7" stroke="#0000ff" stroke-width="1.2"/>
<path d="M62.6,254.4L66.2,258.0M62.6,258.0L66.2,254.4" stroke="#0000ff" stroke-width="1.2"/>
<path d="M60.8,255.9L64.4,259.5M60.8,259.5L64.4,255.9" stroke="#0000ff" stroke-width="1.2"/>
<path d="M59.1,254.1L62.7,257.7M59.1,257.7L62.7,254.1" stroke="#0000ff" stroke-width="1.2"/>
<path d="M63.3,255.3L66.9,258.9M63.3,258.9L66.9,255.3" stroke="#0000ff" stroke-width="1.2"/>
<path d="M66.2,253.9L69.8,257.5M66.2,257.5L69.8,253.9" stroke="#000" stroke-width="1.2"/>
<path d="M52.6,253.9 L56.6,256.3 L61.4,256.5" fill="none" stroke="#000" stroke-width="1.1" stroke-dasharray="6 4" stroke-opacity="0.9"/>
</g>
<path d="M150.5,181.5H17.5V315.0H150.5" fill="none" stroke="#6c6c6c" stroke-width="1"/>
<path d="M150.5,181V315.5" fill="none" stroke="#a4a4a4" stroke-width="1"/>
<path d="M17.5,314.5v-1.5M17.5,182v1.5M18,315.0h1.5M150,315.0h-1.5M44.1,314.5v-1.5M44.1,182v1.5M18,288.3h1.5M150,288.3h-1.5M70.7,314.5v-1.5M70.7,182v1.5M18,261.6h1.5M150,261.6h-1.5M97.3,314.5v-1.5M97.3,182v1.5M18,234.9h1.5M150,234.9h-1.5M123.9,314.5v-1.5M123.9,182v1.5M18,208.2h1.5M150,208.2h-1.5M150.5,314.5v-1.5M150.5,182v1.5M18,181.5h1.5M150,181.5h-1.5" stroke="#6c6c6c" stroke-width="1"/>
<g clip-path="url(#c5)">
<polygon points="297.48,191.11 305.54,99.35 221.75,138.28" fill="rgb(0,0,255)" fill-opacity="0.115"/>
<polygon points="306.33,193.78 214.28,185.11 252.77,268.87" fill="rgb(255,0,0)" fill-opacity="0.13"/>
<polygon points="286.76,208.73 375.64,234.12 353.27,144.75" fill="rgb(0,0,255)" fill-opacity="0.115"/>
<polygon points="271.76,222.88 235.04,134.58 176.63,210.41" fill="rgb(0,0,255)" fill-opacity="0.115"/>
<polygon points="304.99,221.82 391.87,190.31 321.04,131.10" fill="rgb(0,0,255)" fill-opacity="0.115"/>
<polygon points="284.89,230.09 235.89,308.21 328.30,311.43" fill="rgb(0,0,255)" fill-opacity="0.115"/>
<polygon points="305.52,242.64 329.45,153.67 240.14,177.51" fill="rgb(0,0,255)" fill-opacity="0.115"/>
<polygon points="261.04,233.83 317.96,306.42 352.60,221.01" fill="rgb(0,0,255)" fill-opacity="0.115"/>
<polygon points="195.64,266.67 268.50,323.38 281.37,232.17" fill="rgb(255,0,0)" fill-opacity="0.13"/>
<polygon points="208.51,285.63 116.10,282.42 159.51,363.75" fill="rgb(0,0,255)" fill-opacity="0.115"/>
<polygon points="240.40,270.14 216.47,181.17 151.09,246.30" fill="rgb(0,0,255)" fill-opacity="0.115"/>
<polygon points="235.84,308.86 261.33,220.31 171.62,242.60" fill="rgb(0,0,255)" fill-opacity="0.115"/>
<polygon points="261.57,257.60 353.98,260.81 310.57,179.48" fill="rgb(0,0,255)" fill-opacity="0.115"/>
<polygon points="281.94,280.82 198.84,240.44 205.29,332.33" fill="rgb(0,0,255)" fill-opacity="0.115"/>
<polygon points="273.10,296.31 184.22,321.70 250.73,385.69" fill="rgb(0,0,255)" fill-opacity="0.115"/>
<line x1="297.5" y1="191.1" x2="306.3" y2="193.8" stroke="#0000ff" stroke-width="0.75" stroke-dasharray="0.8 2.4" stroke-opacity="0.5"/>
<line x1="297.5" y1="191.1" x2="286.8" y2="208.7" stroke="#0000ff" stroke-width="0.75" stroke-dasharray="0.8 2.4" stroke-opacity="0.5"/>
<line x1="297.5" y1="191.1" x2="271.8" y2="222.9" stroke="#0000ff" stroke-width="0.75" stroke-dasharray="0.8 2.4" stroke-opacity="0.5"/>
<line x1="297.5" y1="191.1" x2="305.0" y2="221.8" stroke="#0000ff" stroke-width="0.75" stroke-dasharray="0.8 2.4" stroke-opacity="0.5"/>
<line x1="297.5" y1="191.1" x2="284.9" y2="230.1" stroke="#0000ff" stroke-width="0.75" stroke-dasharray="0.8 2.4" stroke-opacity="0.5"/>
<line x1="297.5" y1="191.1" x2="305.5" y2="242.6" stroke="#0000ff" stroke-width="0.75" stroke-dasharray="0.8 2.4" stroke-opacity="0.5"/>
<line x1="306.3" y1="193.8" x2="286.8" y2="208.7" stroke="#0000ff" stroke-width="0.75" stroke-dasharray="0.8 2.4" stroke-opacity="0.5"/>
<line x1="306.3" y1="193.8" x2="271.8" y2="222.9" stroke="#0000ff" stroke-width="0.75" stroke-dasharray="0.8 2.4" stroke-opacity="0.5"/>
<line x1="306.3" y1="193.8" x2="305.0" y2="221.8" stroke="#0000ff" stroke-width="0.75" stroke-dasharray="0.8 2.4" stroke-opacity="0.5"/>
<line x1="306.3" y1="193.8" x2="284.9" y2="230.1" stroke="#0000ff" stroke-width="0.75" stroke-dasharray="0.8 2.4" stroke-opacity="0.5"/>
<line x1="306.3" y1="193.8" x2="305.5" y2="242.6" stroke="#0000ff" stroke-width="0.75" stroke-dasharray="0.8 2.4" stroke-opacity="0.5"/>
<line x1="286.8" y1="208.7" x2="271.8" y2="222.9" stroke="#0000ff" stroke-width="0.75" stroke-dasharray="0.8 2.4" stroke-opacity="0.5"/>
<line x1="286.8" y1="208.7" x2="305.0" y2="221.8" stroke="#0000ff" stroke-width="0.75" stroke-dasharray="0.8 2.4" stroke-opacity="0.5"/>
<line x1="286.8" y1="208.7" x2="284.9" y2="230.1" stroke="#0000ff" stroke-width="0.75" stroke-dasharray="0.8 2.4" stroke-opacity="0.5"/>
<line x1="286.8" y1="208.7" x2="305.5" y2="242.6" stroke="#0000ff" stroke-width="0.75" stroke-dasharray="0.8 2.4" stroke-opacity="0.5"/>
<line x1="286.8" y1="208.7" x2="261.0" y2="233.8" stroke="#0000ff" stroke-width="0.75" stroke-dasharray="0.8 2.4" stroke-opacity="0.5"/>
<line x1="271.8" y1="222.9" x2="305.0" y2="221.8" stroke="#0000ff" stroke-width="0.75" stroke-dasharray="0.8 2.4" stroke-opacity="0.5"/>
<line x1="271.8" y1="222.9" x2="284.9" y2="230.1" stroke="#0000ff" stroke-width="0.75" stroke-dasharray="0.8 2.4" stroke-opacity="0.5"/>
<line x1="271.8" y1="222.9" x2="305.5" y2="242.6" stroke="#0000ff" stroke-width="0.75" stroke-dasharray="0.8 2.4" stroke-opacity="0.5"/>
<line x1="271.8" y1="222.9" x2="261.0" y2="233.8" stroke="#0000ff" stroke-width="0.75" stroke-dasharray="0.8 2.4" stroke-opacity="0.5"/>
<line x1="271.8" y1="222.9" x2="261.6" y2="257.6" stroke="#0000ff" stroke-width="0.75" stroke-dasharray="0.8 2.4" stroke-opacity="0.5"/>
<line x1="305.0" y1="221.8" x2="284.9" y2="230.1" stroke="#0000ff" stroke-width="0.75" stroke-dasharray="0.8 2.4" stroke-opacity="0.5"/>
<line x1="305.0" y1="221.8" x2="305.5" y2="242.6" stroke="#0000ff" stroke-width="0.75" stroke-dasharray="0.8 2.4" stroke-opacity="0.5"/>
<line x1="305.0" y1="221.8" x2="261.0" y2="233.8" stroke="#0000ff" stroke-width="0.75" stroke-dasharray="0.8 2.4" stroke-opacity="0.5"/>
<line x1="284.9" y1="230.1" x2="305.5" y2="242.6" stroke="#0000ff" stroke-width="0.75" stroke-dasharray="0.8 2.4" stroke-opacity="0.5"/>
<line x1="284.9" y1="230.1" x2="261.0" y2="233.8" stroke="#0000ff" stroke-width="0.75" stroke-dasharray="0.8 2.4" stroke-opacity="0.5"/>
<line x1="284.9" y1="230.1" x2="261.6" y2="257.6" stroke="#0000ff" stroke-width="0.75" stroke-dasharray="0.8 2.4" stroke-opacity="0.5"/>
<line x1="284.9" y1="230.1" x2="281.9" y2="280.8" stroke="#0000ff" stroke-width="0.75" stroke-dasharray="0.8 2.4" stroke-opacity="0.5"/>
<line x1="305.5" y1="242.6" x2="261.0" y2="233.8" stroke="#0000ff" stroke-width="0.75" stroke-dasharray="0.8 2.4" stroke-opacity="0.5"/>
<line x1="305.5" y1="242.6" x2="261.6" y2="257.6" stroke="#0000ff" stroke-width="0.75" stroke-dasharray="0.8 2.4" stroke-opacity="0.5"/>
<line x1="305.5" y1="242.6" x2="281.9" y2="280.8" stroke="#0000ff" stroke-width="0.75" stroke-dasharray="0.8 2.4" stroke-opacity="0.5"/>
<line x1="261.0" y1="233.8" x2="240.4" y2="270.1" stroke="#0000ff" stroke-width="0.75" stroke-dasharray="0.8 2.4" stroke-opacity="0.5"/>
<line x1="261.0" y1="233.8" x2="261.6" y2="257.6" stroke="#0000ff" stroke-width="0.75" stroke-dasharray="0.8 2.4" stroke-opacity="0.5"/>
<line x1="261.0" y1="233.8" x2="281.9" y2="280.8" stroke="#0000ff" stroke-width="0.75" stroke-dasharray="0.8 2.4" stroke-opacity="0.5"/>
<line x1="195.6" y1="266.7" x2="208.5" y2="285.6" stroke="#0000ff" stroke-width="0.75" stroke-dasharray="0.8 2.4" stroke-opacity="0.5"/>
<line x1="195.6" y1="266.7" x2="240.4" y2="270.1" stroke="#0000ff" stroke-width="0.75" stroke-dasharray="0.8 2.4" stroke-opacity="0.5"/>
<line x1="208.5" y1="285.6" x2="240.4" y2="270.1" stroke="#0000ff" stroke-width="0.75" stroke-dasharray="0.8 2.4" stroke-opacity="0.5"/>
<line x1="208.5" y1="285.6" x2="235.8" y2="308.9" stroke="#0000ff" stroke-width="0.75" stroke-dasharray="0.8 2.4" stroke-opacity="0.5"/>
<line x1="240.4" y1="270.1" x2="235.8" y2="308.9" stroke="#0000ff" stroke-width="0.75" stroke-dasharray="0.8 2.4" stroke-opacity="0.5"/>
<line x1="240.4" y1="270.1" x2="261.6" y2="257.6" stroke="#0000ff" stroke-width="0.75" stroke-dasharray="0.8 2.4" stroke-opacity="0.5"/>
<line x1="240.4" y1="270.1" x2="281.9" y2="280.8" stroke="#0000ff" stroke-width="0.75" stroke-dasharray="0.8 2.4" stroke-opacity="0.5"/>
<line x1="240.4" y1="270.1" x2="273.1" y2="296.3" stroke="#0000ff" stroke-width="0.75" stroke-dasharray="0.8 2.4" stroke-opacity="0.5"/>
<line x1="235.8" y1="308.9" x2="273.1" y2="296.3" stroke="#0000ff" stroke-width="0.75" stroke-dasharray="0.8 2.4" stroke-opacity="0.5"/>
<line x1="261.6" y1="257.6" x2="281.9" y2="280.8" stroke="#0000ff" stroke-width="0.75" stroke-dasharray="0.8 2.4" stroke-opacity="0.5"/>
<line x1="261.6" y1="257.6" x2="273.1" y2="296.3" stroke="#0000ff" stroke-width="0.75" stroke-dasharray="0.8 2.4" stroke-opacity="0.5"/>
<line x1="281.9" y1="280.8" x2="273.1" y2="296.3" stroke="#0000ff" stroke-width="0.75" stroke-dasharray="0.8 2.4" stroke-opacity="0.5"/>
<circle cx="297.5" cy="191.1" r="1.3" fill="#0000ff"/>
<line x1="297.5" y1="191.1" x2="296.0" y2="187.8" stroke="#0000ff" stroke-width="0.7"/>
<polygon points="294.5,184.8 294.2,188.7 297.7,187.0" fill="#0000ff"/>
<circle cx="306.3" cy="193.8" r="1.3" fill="#ff0000"/>
<line x1="306.3" y1="193.8" x2="303.1" y2="195.3" stroke="#ff0000" stroke-width="0.7"/>
<polygon points="300.0,196.7 303.8,197.0 302.3,193.6" fill="#ff0000"/>
<circle cx="286.8" cy="208.7" r="1.3" fill="#0000ff"/>
<line x1="286.8" y1="208.7" x2="290.3" y2="207.9" stroke="#0000ff" stroke-width="0.7"/>
<polygon points="293.6,207.0 289.8,206.0 290.7,209.7" fill="#0000ff"/>
<circle cx="271.8" cy="222.9" r="1.3" fill="#0000ff"/>
<line x1="271.8" y1="222.9" x2="268.9" y2="220.7" stroke="#0000ff" stroke-width="0.7"/>
<polygon points="266.2,218.6 267.7,222.2 270.1,219.2" fill="#0000ff"/>
<circle cx="305.0" cy="221.8" r="1.3" fill="#0000ff"/>
<line x1="305.0" y1="221.8" x2="307.3" y2="219.1" stroke="#0000ff" stroke-width="0.7"/>
<polygon points="309.5,216.5 305.8,217.8 308.8,220.3" fill="#0000ff"/>
<circle cx="284.9" cy="230.1" r="1.3" fill="#0000ff"/>
<line x1="284.9" y1="230.1" x2="284.8" y2="233.7" stroke="#0000ff" stroke-width="0.7"/>
<polygon points="284.6,237.1 286.7,233.8 282.9,233.6" fill="#0000ff"/>
<circle cx="305.5" cy="242.6" r="1.3" fill="#0000ff"/>
<line x1="305.5" y1="242.6" x2="304.6" y2="239.2" stroke="#0000ff" stroke-width="0.7"/>
<polygon points="303.7,235.9 302.8,239.7 306.4,238.7" fill="#0000ff"/>
<circle cx="261.0" cy="233.8" r="1.3" fill="#0000ff"/>
<line x1="261.0" y1="233.8" x2="264.4" y2="235.2" stroke="#0000ff" stroke-width="0.7"/>
<polygon points="267.5,236.5 265.1,233.4 263.7,236.9" fill="#0000ff"/>
<circle cx="195.6" cy="266.7" r="1.3" fill="#ff0000"/>
<line x1="195.6" y1="266.7" x2="199.2" y2="267.2" stroke="#ff0000" stroke-width="0.7"/>
<polygon points="202.6,267.6 199.5,265.3 198.9,269.1" fill="#ff0000"/>
<circle cx="208.5" cy="285.6" r="1.3" fill="#0000ff"/>
<line x1="208.5" y1="285.6" x2="205.3" y2="287.3" stroke="#0000ff" stroke-width="0.7"/>
<polygon points="202.3,288.9 206.2,289.0 204.4,285.6" fill="#0000ff"/>
<circle cx="240.4" cy="270.1" r="1.3" fill="#0000ff"/>
<line x1="240.4" y1="270.1" x2="237.9" y2="267.6" stroke="#0000ff" stroke-width="0.7"/>
<polygon points="235.5,265.2 236.5,268.9 239.2,266.3" fill="#0000ff"/>
<circle cx="235.8" cy="308.9" r="1.3" fill="#0000ff"/>
<line x1="235.8" y1="308.9" x2="235.0" y2="305.4" stroke="#0000ff" stroke-width="0.7"/>
<polygon points="234.2,302.1 233.1,305.8 236.8,304.9" fill="#0000ff"/>
<circle cx="261.6" cy="257.6" r="1.3" fill="#0000ff"/>
<line x1="261.6" y1="257.6" x2="264.8" y2="255.9" stroke="#0000ff" stroke-width="0.7"/>
<polygon points="267.8,254.3 263.9,254.2 265.6,257.6" fill="#0000ff"/>
<circle cx="281.9" cy="280.8" r="1.3" fill="#0000ff"/>
<line x1="281.9" y1="280.8" x2="278.3" y2="281.1" stroke="#0000ff" stroke-width="0.7"/>
<polygon points="275.0,281.3 278.5,283.0 278.2,279.2" fill="#0000ff"/>
<circle cx="273.1" cy="296.3" r="1.3" fill="#0000ff"/>
<line x1="273.1" y1="296.3" x2="270.6" y2="298.9" stroke="#0000ff" stroke-width="0.7"/>
<polygon points="268.2,301.3 272.0,300.2 269.2,297.6" fill="#0000ff"/>
<path d="M254.4,253.4L258.0,257.0M254.4,257.0L258.0,253.4" stroke="#0000ff" stroke-width="1.2"/>
<path d="M256.2,253.9L259.8,257.5M256.2,257.5L259.8,253.9" stroke="#0000ff" stroke-width="1.2"/>
<path d="M257.9,253.1L261.5,256.7M257.9,256.7L261.5,253.1" stroke="#0000ff" stroke-width="1.2"/>
<path d="M255.1,251.3L258.7,254.9M255.1,254.9L258.7,251.3" stroke="#0000ff" stroke-width="1.2"/>
<path d="M257.2,251.0L260.8,254.6M257.2,254.6L260.8,251.0" stroke="#0000ff" stroke-width="1.2"/>
<path d="M255.9,252.3L259.5,255.9M255.9,255.9L259.5,252.3" stroke="#0000ff" stroke-width="1.2"/>
<path d="M254.6,250.7L258.2,254.3M254.6,254.3L258.2,250.7" stroke="#0000ff" stroke-width="1.2"/>
<path d="M257.7,251.8L261.3,255.4M257.7,255.4L261.3,251.8" stroke="#0000ff" stroke-width="1.2"/>
<path d="M228.9,253.9 L232.9,256.3 L239.1,256.3 L246.0,256.0 L252.7,255.5 L256.5,253.9" fill="none" stroke="#000" stroke-width="1.1" stroke-dasharray="6 4" stroke-opacity="0.9"/>
</g>
<path d="M327.5,181.5H193.5V315.0H327.5" fill="none" stroke="#6c6c6c" stroke-width="1"/>
<path d="M327.5,181V315.5" fill="none" stroke="#a4a4a4" stroke-width="1"/>
<path d="M193.5,314.5v-1.5M193.5,182v1.5M194,315.0h1.5M327,315.0h-1.5M220.3,314.5v-1.5M220.3,182v1.5M194,288.3h1.5M327,288.3h-1.5M247.1,314.5v-1.5M247.1,182v1.5M194,261.6h1.5M327,261.6h-1.5M273.9,314.5v-1.5M273.9,182v1.5M194,234.9h1.5M327,234.9h-1.5M300.7,314.5v-1.5M300.7,182v1.5M194,208.2h1.5M327,208.2h-1.5M327.5,314.5v-1.5M327.5,182v1.5M194,181.5h1.5M327,181.5h-1.5" stroke="#6c6c6c" stroke-width="1"/>
<g clip-path="url(#c6)">
<polygon points="473.48,191.11 481.54,99.35 397.75,138.28" fill="rgb(0,0,255)" fill-opacity="0.115"/>
<polygon points="482.33,193.78 390.28,185.11 428.77,268.87" fill="rgb(0,0,255)" fill-opacity="0.115"/>
<polygon points="462.76,208.73 551.64,234.12 529.27,144.75" fill="rgb(0,0,255)" fill-opacity="0.115"/>
<polygon points="447.76,222.88 411.04,134.58 352.63,210.41" fill="rgb(0,0,255)" fill-opacity="0.115"/>
<polygon points="480.99,221.82 567.87,190.31 497.04,131.10" fill="rgb(0,0,255)" fill-opacity="0.115"/>
<polygon points="460.89,230.09 411.89,308.21 504.30,311.43" fill="rgb(255,0,0)" fill-opacity="0.13"/>
<polygon points="481.52,242.64 505.45,153.67 416.14,177.51" fill="rgb(0,0,255)" fill-opacity="0.115"/>
<polygon points="437.04,233.83 493.96,306.42 528.60,221.01" fill="rgb(255,0,0)" fill-opacity="0.13"/>
<polygon points="371.64,266.67 444.50,323.38 457.37,232.17" fill="rgb(0,0,255)" fill-opacity="0.115"/>
<polygon points="384.51,285.63 292.10,282.42 335.51,363.75" fill="rgb(0,0,255)" fill-opacity="0.115"/>
<polygon points="416.40,270.14 392.47,181.17 327.09,246.30" fill="rgb(0,0,255)" fill-opacity="0.115"/>
<polygon points="411.84,308.86 437.33,220.31 347.62,242.60" fill="rgb(0,0,255)" fill-opacity="0.115"/>
<polygon points="437.57,257.60 529.98,260.81 486.57,179.48" fill="rgb(255,0,0)" fill-opacity="0.13"/>
<polygon points="457.94,280.82 374.84,240.44 381.29,332.33" fill="rgb(0,0,255)" fill-opacity="0.115"/>
<polygon points="449.10,296.31 360.22,321.70 426.73,385.69" fill="rgb(0,0,255)" fill-opacity="0.115"/>
<line x1="473.5" y1="191.1" x2="482.3" y2="193.8" stroke="#0000ff" stroke-width="0.75" stroke-dasharray="0.8 2.4" stroke-opacity="0.5"/>
<line x1="473.5" y1="191.1" x2="462.8" y2="208.7" stroke="#0000ff" stroke-width="0.75" stroke-dasharray="0.8 2.4" stroke-opacity="0.5"/>
<line x1="473.5" y1="191.1" x2="447.8" y2="222.9" stroke="#0000ff" stroke-width="0.75" stroke-dasharray="0.8 2.4" stroke-opacity="0.5"/>
<line x1="473.5" y1="191.1" x2="481.0" y2="221.8" stroke="#0000ff" stroke-width="0.75" stroke-dasharray="0.8 2.4" stroke-opacity="0.5"/>
<line x1="473.5" y1="191.1" x2="460.9" y2="230.1" stroke="#0000ff" stroke-width="0.75" stroke-dasharray="0.8 2.4" stroke-opacity="0.5"/>
<line x1="473.5" y1="191.1" x2="481.5" y2="242.6" stroke="#0000ff" stroke-width="0.75" stroke-dasharray="0.8 2.4" stroke-opacity="0.5"/>
<line x1="482.3" y1="193.8" x2="462.8" y2="208.7" stroke="#0000ff" stroke-width="0.75" stroke-dasharray="0.8 2.4" stroke-opacity="0.5"/>
<line x1="482.3" y1="193.8" x2="447.8" y2="222.9" stroke="#0000ff" stroke-width="0.75" stroke-dasharray="0.8 2.4" stroke-opacity="0.5"/>
<line x1="482.3" y1="193.8" x2="481.0" y2="221.8" stroke="#0000ff" stroke-width="0.75" stroke-dasharray="0.8 2.4" stroke-opacity="0.5"/>
<line x1="482.3" y1="193.8" x2="460.9" y2="230.1" stroke="#0000ff" stroke-width="0.75" stroke-dasharray="0.8 2.4" stroke-opacity="0.5"/>
<line x1="482.3" y1="193.8" x2="481.5" y2="242.6" stroke="#0000ff" stroke-width="0.75" stroke-dasharray="0.8 2.4" stroke-opacity="0.5"/>
<line x1="462.8" y1="208.7" x2="447.8" y2="222.9" stroke="#0000ff" stroke-width="0.75" stroke-dasharray="0.8 2.4" stroke-opacity="0.5"/>
<line x1="462.8" y1="208.7" x2="481.0" y2="221.8" stroke="#0000ff" stroke-width="0.75" stroke-dasharray="0.8 2.4" stroke-opacity="0.5"/>
<line x1="462.8" y1="208.7" x2="460.9" y2="230.1" stroke="#0000ff" stroke-width="0.75" stroke-dasharray="0.8 2.4" stroke-opacity="0.5"/>
<line x1="462.8" y1="208.7" x2="481.5" y2="242.6" stroke="#0000ff" stroke-width="0.75" stroke-dasharray="0.8 2.4" stroke-opacity="0.5"/>
<line x1="462.8" y1="208.7" x2="437.0" y2="233.8" stroke="#0000ff" stroke-width="0.75" stroke-dasharray="0.8 2.4" stroke-opacity="0.5"/>
<line x1="447.8" y1="222.9" x2="481.0" y2="221.8" stroke="#0000ff" stroke-width="0.75" stroke-dasharray="0.8 2.4" stroke-opacity="0.5"/>
<line x1="447.8" y1="222.9" x2="460.9" y2="230.1" stroke="#0000ff" stroke-width="0.75" stroke-dasharray="0.8 2.4" stroke-opacity="0.5"/>
<line x1="447.8" y1="222.9" x2="481.5" y2="242.6" stroke="#0000ff" stroke-width="0.75" stroke-dasharray="0.8 2.4" stroke-opacity="0.5"/>
<line x1="447.8" y1="222.9" x2="437.0" y2="233.8" stroke="#0000ff" stroke-width="0.75" stroke-dasharray="0.8 2.4" stroke-opacity="0.5"/>
<line x1="447.8" y1="222.9" x2="437.6" y2="257.6" stroke="#0000ff" stroke-width="0.75" stroke-dasharray="0.8 2.4" stroke-opacity="0.5"/>
<line x1="481.0" y1="221.8" x2="460.9" y2="230.1" stroke="#0000ff" stroke-width="0.75" stroke-dasharray="0.8 2.4" stroke-opacity="0.5"/>
<line x1="481.0" y1="221.8" x2="481.5" y2="242.6" stroke="#0000ff" stroke-width="0.75" stroke-dasharray="0.8 2.4" stroke-opacity="0.5"/>
<line x1="481.0" y1="221.8" x2="437.0" y2="233.8" stroke="#0000ff" stroke-width="0.75" stroke-dasharray="0.8 2.4" stroke-opacity="0.5"/>
<line x1="460.9" y1="230.1" x2="481.5" y2="242.6" stroke="#0000ff" stroke-width="0.75" stroke-dasharray="0.8 2.4" stroke-opacity="0.5"/>
<line x1="460.9" y1="230.1" x2="437.0" y2="233.8" stroke="#0000ff" stroke-width="0.75" stroke-dasharray="0.8 2.4" stroke-opacity="0.5"/>
<line x1="460.9" y1="230.1" x2="437.6" y2="257.6" stroke="#0000ff" stroke-width="0.75" stroke-dasharray="0.8 2.4" stroke-opacity="0.5"/>
<line x1="460.9" y1="230.1" x2="457.9" y2="280.8" stroke="#0000ff" stroke-width="0.75" stroke-dasharray="0.8 2.4" stroke-opacity="0.5"/>
<line x1="481.5" y1="242.6" x2="437.0" y2="233.8" stroke="#0000ff" stroke-width="0.75" stroke-dasharray="0.8 2.4" stroke-opacity="0.5"/>
<line x1="481.5" y1="242.6" x2="437.6" y2="257.6" stroke="#0000ff" stroke-width="0.75" stroke-dasharray="0.8 2.4" stroke-opacity="0.5"/>
<line x1="481.5" y1="242.6" x2="457.9" y2="280.8" stroke="#0000ff" stroke-width="0.75" stroke-dasharray="0.8 2.4" stroke-opacity="0.5"/>
<line x1="437.0" y1="233.8" x2="416.4" y2="270.1" stroke="#0000ff" stroke-width="0.75" stroke-dasharray="0.8 2.4" stroke-opacity="0.5"/>
<line x1="437.0" y1="233.8" x2="437.6" y2="257.6" stroke="#0000ff" stroke-width="0.75" stroke-dasharray="0.8 2.4" stroke-opacity="0.5"/>
<line x1="437.0" y1="233.8" x2="457.9" y2="280.8" stroke="#0000ff" stroke-width="0.75" stroke-dasharray="0.8 2.4" stroke-opacity="0.5"/>
<line x1="371.6" y1="266.7" x2="384.5" y2="285.6" stroke="#0000ff" stroke-width="0.75" stroke-dasharray="0.8 2.4" stroke-opacity="0.5"/>
<line x1="371.6" y1="266.7" x2="416.4" y2="270.1" stroke="#0000ff" stroke-width="0.75" stroke-dasharray="0.8 2.4" stroke-opacity="0.5"/>
<line x1="384.5" y1="285.6" x2="416.4" y2="270.1" stroke="#0000ff" stroke-width="0.75" stroke-dasharray="0.8 2.4" stroke-opacity="0.5"/>
<line x1="384.5" y1="285.6" x2="411.8" y2="308.9" stroke="#0000ff" stroke-width="0.75" stroke-dasharray="0.8 2.4" stroke-opacity="0.5"/>
<line x1="416.4" y1="270.1" x2="411.8" y2="308.9" stroke="#0000ff" stroke-width="0.75" stroke-dasharray="0.8 2.4" stroke-opacity="0.5"/>
<line x1="416.4" y1="270.1" x2="437.6" y2="257.6" stroke="#0000ff" stroke-width="0.75" stroke-dasharray="0.8 2.4" stroke-opacity="0.5"/>
<line x1="416.4" y1="270.1" x2="457.9" y2="280.8" stroke="#0000ff" stroke-width="0.75" stroke-dasharray="0.8 2.4" stroke-opacity="0.5"/>
<line x1="416.4" y1="270.1" x2="449.1" y2="296.3" stroke="#0000ff" stroke-width="0.75" stroke-dasharray="0.8 2.4" stroke-opacity="0.5"/>
<line x1="411.8" y1="308.9" x2="449.1" y2="296.3" stroke="#0000ff" stroke-width="0.75" stroke-dasharray="0.8 2.4" stroke-opacity="0.5"/>
<line x1="437.6" y1="257.6" x2="457.9" y2="280.8" stroke="#0000ff" stroke-width="0.75" stroke-dasharray="0.8 2.4" stroke-opacity="0.5"/>
<line x1="437.6" y1="257.6" x2="449.1" y2="296.3" stroke="#0000ff" stroke-width="0.75" stroke-dasharray="0.8 2.4" stroke-opacity="0.5"/>
<line x1="457.9" y1="280.8" x2="449.1" y2="296.3" stroke="#0000ff" stroke-width="0.75" stroke-dasharray="0.8 2.4" stroke-opacity="0.5"/>
<circle cx="473.5" cy="191.1" r="1.3" fill="#0000ff"/>
<line x1="473.5" y1="191.1" x2="472.0" y2="187.8" stroke="#0000ff" stroke-width="0.7"/>
<polygon points="470.5,184.8 470.2,188.7 473.7,187.0" fill="#0000ff"/>
<circle cx="482.3" cy="193.8" r="1.3" fill="#0000ff"/>
<line x1="482.3" y1="193.8" x2="479.1" y2="195.3" stroke="#0000ff" stroke-width="0.7"/>
<polygon points="476.0,196.7 479.8,197.0 478.3,193.6" fill="#0000ff"/>
<circle cx="462.8" cy="208.7" r="1.3" fill="#0000ff"/>
<line x1="462.8" y1="208.7" x2="466.3" y2="207.9" stroke="#0000ff" stroke-width="0.7"/>
<polygon points="469.6,207.0 465.8,206.0 466.7,209.7" fill="#0000ff"/>
<circle cx="447.8" cy="222.9" r="1.3" fill="#0000ff"/>
<line x1="447.8" y1="222.9" x2="444.9" y2="220.7" stroke="#0000ff" stroke-width="0.7"/>
<polygon points="442.2,218.6 443.7,222.2 446.1,219.2" fill="#0000ff"/>
<circle cx="481.0" cy="221.8" r="1.3" fill="#0000ff"/>
<line x1="481.0" y1="221.8" x2="483.3" y2="219.1" stroke="#0000ff" stroke-width="0.7"/>
<polygon points="485.5,216.5 481.8,217.8 484.8,220.3" fill="#0000ff"/>
<circle cx="460.9" cy="230.1" r="1.3" fill="#ff0000"/>
<line x1="460.9" y1="230.1" x2="460.8" y2="233.7" stroke="#ff0000" stroke-width="0.7"/>
<polygon points="460.6,237.1 462.7,233.8 458.9,233.6" fill="#ff0000"/>
<circle cx="481.5" cy="242.6" r="1.3" fill="#0000ff"/>
<line x1="481.5" y1="242.6" x2="480.6" y2="239.2" stroke="#0000ff" stroke-width="0.7"/>
<polygon points="479.7,235.9 478.8,239.7 482.4,238.7" fill="#0000ff"/>
<circle cx="437.0" cy="233.8" r="1.3" fill="#ff0000"/>
<line x1="437.0" y1="233.8" x2="440.4" y2="235.2" stroke="#ff0000" stroke-width="0.7"/>
<polygon points="443.5,236.5 441.1,233.4 439.7,236.9" fill="#ff0000"/>
<circle cx="371.6" cy="266.7" r="1.3" fill="#0000ff"/>
<line x1="371.6" y1="266.7" x2="375.2" y2="267.2" stroke="#0000ff" stroke-width="0.7"/>
<polygon points="378.6,267.6 375.5,265.3 374.9,269.1" fill="#0000ff"/>
<circle cx="384.5" cy="285.6" r="1.3" fill="#0000ff"/>
<line x1="384.5" y1="285.6" x2="381.3" y2="287.3" stroke="#0000ff" stroke-width="0.7"/>
<polygon points="378.3,288.9 382.2,289.0 380.4,285.6" fill="#0000ff"/>
<circle cx="416.4" cy="270.1" r="1.3" fill="#0000ff"/>
<line x1="416.4" y1="270.1" x2="413.9" y2="267.6" stroke="#0000ff" stroke-width="0.7"/>
<polygon points="411.5,265.2 412.5,268.9 415.2,266.3" fill="#0000ff"/>
<circle cx="411.8" cy="308.9" r="1.3" fill="#0000ff"/>
<line x1="411.8" y1="308.9" x2="411.0" y2="305.4" stroke="#0000ff" stroke-width="0.7"/>
<polygon points="410.2,302.1 409.1,305.8 412.8,304.9" fill="#0000ff"/>
<circle cx="437.6" cy="257.6" r="1.3" fill="#ff0000"/>
<line x1="437.6" y1="257.6" x2="440.8" y2="255.9" stroke="#ff0000" stroke-width="0.7"/>
<polygon points="443.8,254.3 439.9,254.2 441.6,257.6" fill="#ff0000"/>
<circle cx="457.9" cy="280.8" r="1.3" fill="#0000ff"/>
<line x1="457.9" y1="280.8" x2="454.3" y2="281.1" stroke="#0000ff" stroke-width="0.7"/>
<polygon points="451.0,281.3 454.5,283.0 454.2,279.2" fill="#0000ff"/>
<circle cx="449.1" cy="296.3" r="1.3" fill="#0000ff"/>
<line x1="449.1" y1="296.3" x2="446.6" y2="298.9" stroke="#0000ff" stroke-width="0.7"/>
<polygon points="444.2,301.3 448.0,300.2 445.2,297.6" fill="#0000ff"/>
<path d="M459.8,248.9L463.4,252.5M459.8,252.5L463.4,248.9" stroke="#0000ff" stroke-width="1.2"/>
<path d="M460.8,249.2L464.4,252.8M460.8,252.8L464.4,249.2" stroke="#0000ff" stroke-width="1.2"/>
<path d="M461.9,248.7L465.5,252.3M461.9,252.3L465.5,248.7" stroke="#0000ff" stroke-width="1.2"/>
<path d="M460.2,247.5L463.8,251.1M460.2,251.1L463.8,247.5" stroke="#0000ff" stroke-width="1.2"/>
<path d="M461.4,247.3L465.0,250.9M461.4,250.9L465.0,247.3" stroke="#0000ff" stroke-width="1.2"/>
<path d="M460.7,248.2L464.3,251.8M460.7,251.8L464.3,248.2" stroke="#0000ff" stroke-width="1.2"/>
<path d="M459.9,247.1L463.5,250.7M459.9,250.7L463.5,247.1" stroke="#0000ff" stroke-width="1.2"/>
<path d="M461.7,247.8L465.3,251.4M461.7,251.4L465.3,247.8" stroke="#0000ff" stroke-width="1.2"/>
<path d="M404.9,253.9 L408.9,256.3 L415.1,256.3 L422.0,256.0 L428.7,255.5 L435.7,252.3 L440.5,251.5 L448.3,250.9 L454.5,250.1 L460.6,250.9 L461.4,250.4" fill="none" stroke="#000" stroke-width="1.1" stroke-dasharray="6 4" stroke-opacity="0.9"/>
</g>
<path d="M503.5,181.5H369.5V315.0H503.5" fill="none" stroke="#6c6c6c" stroke-width="1"/>
<path d="M503.5,181V315.5" fill="none" stroke="#a4a4a4" stroke-width="1"/>
<path d="M369.5,314.5v-1.5M369.5,182v1.5M370,315.0h1.5M503,315.0h-1.5M396.3,314.5v-1.5M396.3,182v1.5M370,288.3h1.5M503,288.3h-1.5M423.1,314.5v-1.5M423.1,182v1.5M370,261.6h1.5M503,261.6h-1.5M449.9,314.5v-1.5M449.9,182v1.5M370,234.9h1.5M503,234.9h-1.5M476.7,314.5v-1.5M476.7,182v1.5M370,208.2h1.5M503,208.2h-1.5M503.5,314.5v-1.5M503.5,182v1.5M370,181.5h1.5M503,181.5h-1.5" stroke="#6c6c6c" stroke-width="1"/>
<g clip-path="url(#c7)">
<polygon points="649.71,191.11 657.71,99.35 574.53,138.28" fill="rgb(0,0,255)" fill-opacity="0.115"/>
<polygon points="658.49,193.78 567.12,185.11 605.33,268.87" fill="rgb(0,0,255)" fill-opacity="0.115"/>
<polygon points="639.07,208.73 727.28,234.12 705.08,144.75" fill="rgb(0,0,255)" fill-opacity="0.115"/>
<polygon points="624.17,222.88 587.73,134.58 529.76,210.41" fill="rgb(0,0,255)" fill-opacity="0.115"/>
<polygon points="657.16,221.82 743.39,190.31 673.09,131.10" fill="rgb(0,0,255)" fill-opacity="0.115"/>
<polygon points="637.21,230.09 588.58,308.21 680.29,311.43" fill="rgb(0,0,255)" fill-opacity="0.115"/>
<polygon points="657.69,242.64 681.44,153.67 592.80,177.51" fill="rgb(0,0,255)" fill-opacity="0.115"/>
<polygon points="613.53,233.83 670.03,306.42 704.41,221.01" fill="rgb(255,0,0)" fill-opacity="0.13"/>
<polygon points="548.63,266.67 620.94,323.38 633.72,232.17" fill="rgb(0,0,255)" fill-opacity="0.115"/>
<polygon points="561.40,285.63 469.68,282.42 512.77,363.75" fill="rgb(0,0,255)" fill-opacity="0.115"/>
<polygon points="593.05,270.14 569.30,181.17 504.41,246.30" fill="rgb(0,0,255)" fill-opacity="0.115"/>
<polygon points="588.53,308.86 613.82,220.31 524.78,242.60" fill="rgb(0,0,255)" fill-opacity="0.115"/>
<polygon points="614.06,257.60 705.78,260.81 662.69,179.48" fill="rgb(0,0,255)" fill-opacity="0.115"/>
<polygon points="634.28,280.82 551.80,240.44 558.20,332.33" fill="rgb(0,0,255)" fill-opacity="0.115"/>
<polygon points="625.50,296.31 537.29,321.70 603.30,385.69" fill="rgb(0,0,255)" fill-opacity="0.115"/>
<line x1="649.7" y1="191.1" x2="658.5" y2="193.8" stroke="#0000ff" stroke-width="0.75" stroke-dasharray="0.8 2.4" stroke-opacity="0.5"/>
<line x1="649.7" y1="191.1" x2="639.1" y2="208.7" stroke="#0000ff" stroke-width="0.75" stroke-dasharray="0.8 2.4" stroke-opacity="0.5"/>
<line x1="649.7" y1="191.1" x2="624.2" y2="222.9" stroke="#0000ff" stroke-width="0.75" stroke-dasharray="0.8 2.4" stroke-opacity="0.5"/>
<line x1="649.7" y1="191.1" x2="657.2" y2="221.8" stroke="#0000ff" stroke-width="0.75" stroke-dasharray="0.8 2.4" stroke-opacity="0.5"/>
<line x1="649.7" y1="191.1" x2="637.2" y2="230.1" stroke="#0000ff" stroke-width="0.75" stroke-dasharray="0.8 2.4" stroke-opacity="0.5"/>
<line x1="649.7" y1="191.1" x2="657.7" y2="242.6" stroke="#0000ff" stroke-width="0.75" stroke-dasharray="0.8 2.4" stroke-opacity="0.5"/>
<line x1="658.5" y1="193.8" x2="639.1" y2="208.7" stroke="#0000ff" stroke-width="0.75" stroke-dasharray="0.8 2.4" stroke-opacity="0.5"/>
<line x1="658.5" y1="193.8" x2="624.2" y2="222.9" stroke="#0000ff" stroke-width="0.75" stroke-dasharray="0.8 2.4" stroke-opacity="0.5"/>
<line x1="658.5" y1="193.8" x2="657.2" y2="221.8" stroke="#0000ff" stroke-width="0.75" stroke-dasharray="0.8 2.4" stroke-opacity="0.5"/>
<line x1="658.5" y1="193.8" x2="637.2" y2="230.1" stroke="#0000ff" stroke-width="0.75" stroke-dasharray="0.8 2.4" stroke-opacity="0.5"/>
<line x1="658.5" y1="193.8" x2="657.7" y2="242.6" stroke="#0000ff" stroke-width="0.75" stroke-dasharray="0.8 2.4" stroke-opacity="0.5"/>
<line x1="639.1" y1="208.7" x2="624.2" y2="222.9" stroke="#0000ff" stroke-width="0.75" stroke-dasharray="0.8 2.4" stroke-opacity="0.5"/>
<line x1="639.1" y1="208.7" x2="657.2" y2="221.8" stroke="#0000ff" stroke-width="0.75" stroke-dasharray="0.8 2.4" stroke-opacity="0.5"/>
<line x1="639.1" y1="208.7" x2="637.2" y2="230.1" stroke="#0000ff" stroke-width="0.75" stroke-dasharray="0.8 2.4" stroke-opacity="0.5"/>
<line x1="639.1" y1="208.7" x2="657.7" y2="242.6" stroke="#0000ff" stroke-width="0.75" stroke-dasharray="0.8 2.4" stroke-opacity="0.5"/>
<line x1="639.1" y1="208.7" x2="613.5" y2="233.8" stroke="#0000ff" stroke-width="0.75" stroke-dasharray="0.8 2.4" stroke-opacity="0.5"/>
<line x1="624.2" y1="222.9" x2="657.2" y2="221.8" stroke="#0000ff" stroke-width="0.75" stroke-dasharray="0.8 2.4" stroke-opacity="0.5"/>
<line x1="624.2" y1="222.9" x2="637.2" y2="230.1" stroke="#0000ff" stroke-width="0.75" stroke-dasharray="0.8 2.4" stroke-opacity="0.5"/>
<line x1="624.2" y1="222.9" x2="657.7" y2="242.6" stroke="#0000ff" stroke-width="0.75" stroke-dasharray="0.8 2.4" stroke-opacity="0.5"/>
<line x1="624.2" y1="222.9" x2="613.5" y2="233.8" stroke="#0000ff" stroke-width="0.75" stroke-dasharray="0.8 2.4" stroke-opacity="0.5"/>
<line x1="624.2" y1="222.9" x2="614.1" y2="257.6" stroke="#0000ff" stroke-width="0.75" stroke-dasharray="0.8 2.4" stroke-opacity="0.5"/>
<line x1="657.2" y1="221.8" x2="637.2" y2="230.1" stroke="#0000ff" stroke-width="0.75" stroke-dasharray="0.8 2.4" stroke-opacity="0.5"/>
<line x1="657.2" y1="221.8" x2="657.7" y2="242.6" stroke="#0000ff" stroke-width="0.75" stroke-dasharray="0.8 2.4" stroke-opacity="0.5"/>
<line x1="657.2" y1="221.8" x2="613.5" y2="233.8" stroke="#0000ff" stroke-width="0.75" stroke-dasharray="0.8 2.4" stroke-opacity="0.5"/>
<line x1="637.2" y1="230.1" x2="657.7" y2="242.6" stroke="#0000ff" stroke-width="0.75" stroke-dasharray="0.8 2.4" stroke-opacity="0.5"/>
<line x1="637.2" y1="230.1" x2="613.5" y2="233.8" stroke="#0000ff" stroke-width="0.75" stroke-dasharray="0.8 2.4" stroke-opacity="0.5"/>
<line x1="637.2" y1="230.1" x2="614.1" y2="257.6" stroke="#0000ff" stroke-width="0.75" stroke-dasharray="0.8 2.4" stroke-opacity="0.5"/>
<line x1="637.2" y1="230.1" x2="634.3" y2="280.8" stroke="#0000ff" stroke-width="0.75" stroke-dasharray="0.8 2.4" stroke-opacity="0.5"/>
<line x1="657.7" y1="242.6" x2="613.5" y2="233.8" stroke="#0000ff" stroke-width="0.75" stroke-dasharray="0.8 2.4" stroke-opacity="0.5"/>
<line x1="657.7" y1="242.6" x2="614.1" y2="257.6" stroke="#0000ff" stroke-width="0.75" stroke-dasharray="0.8 2.4" stroke-opacity="0.5"/>
<line x1="657.7" y1="242.6" x2="634.3" y2="280.8" stroke="#0000ff" stroke-width="0.75" stroke-dasharray="0.8 2.4" stroke-opacity="0.5"/>
<line x1="613.5" y1="233.8" x2="593.0" y2="270.1" stroke="#0000ff" stroke-width="0.75" stroke-dasharray="0.8 2.4" stroke-opacity="0.5"/>
<line x1="613.5" y1="233.8" x2="614.1" y2="257.6" stroke="#0000ff" stroke-width="0.75" stroke-dasharray="0.8 2.4" stroke-opacity="0.5"/>
<line x1="613.5" y1="233.8" x2="634.3" y2="280.8" stroke="#0000ff" stroke-width="0.75" stroke-dasharray="0.8 2.4" stroke-opacity="0.5"/>
<line x1="548.6" y1="266.7" x2="561.4" y2="285.6" stroke="#0000ff" stroke-width="0.75" stroke-dasharray="0.8 2.4" stroke-opacity="0.5"/>
<line x1="548.6" y1="266.7" x2="593.0" y2="270.1" stroke="#0000ff" stroke-width="0.75" stroke-dasharray="0.8 2.4" stroke-opacity="0.5"/>
<line x1="561.4" y1="285.6" x2="593.0" y2="270.1" stroke="#0000ff" stroke-width="0.75" stroke-dasharray="0.8 2.4" stroke-opacity="0.5"/>
<line x1="561.4" y1="285.6" x2="588.5" y2="308.9" stroke="#0000ff" stroke-width="0.75" stroke-dasharray="0.8 2.4" stroke-opacity="0.5"/>
<line x1="593.0" y1="270.1" x2="588.5" y2="308.9" stroke="#0000ff" stroke-width="0.75" stroke-dasharray="0.8 2.4" stroke-opacity="0.5"/>
<line x1="593.0" y1="270.1" x2="614.1" y2="257.6" stroke="#0000ff" stroke-width="0.75" stroke-dasharray="0.8 2.4" stroke-opacity="0.5"/>
<line x1="593.0" y1="270.1" x2="634.3" y2="280.8" stroke="#0000ff" stroke-width="0.75" stroke-dasharray="0.8 2.4" stroke-opacity="0.5"/>
<line x1="593.0" y1="270.1" x2="625.5" y2="296.3" stroke="#0000ff" stroke-width="0.75" stroke-dasharray="0.8 2.4" stroke-opacity="0.5"/>
<line x1="588.5" y1="308.9" x2="625.5" y2="296.3" stroke="#0000ff" stroke-width="0.75" stroke-dasharray="0.8 2.4" stroke-opacity="0.5"/>
<line x1="614.1" y1="257.6" x2="634.3" y2="280.8" stroke="#0000ff" stroke-width="0.75" stroke-dasharray="0.8 2.4" stroke-opacity="0.5"/>
<line x1="614.1" y1="257.6" x2="625.5" y2="296.3" stroke="#0000ff" stroke-width="0.75" stroke-dasharray="0.8 2.4" stroke-opacity="0.5"/>
<line x1="634.3" y1="280.8" x2="625.5" y2="296.3" stroke="#0000ff" stroke-width="0.75" stroke-dasharray="0.8 2.4" stroke-opacity="0.5"/>
<circle cx="649.7" cy="191.1" r="1.3" fill="#0000ff"/>
<line x1="649.7" y1="191.1" x2="648.2" y2="187.8" stroke="#0000ff" stroke-width="0.7"/>
<polygon points="646.7,184.8 646.5,188.7 649.9,187.0" fill="#0000ff"/>
<circle cx="658.5" cy="193.8" r="1.3" fill="#0000ff"/>
<line x1="658.5" y1="193.8" x2="655.2" y2="195.3" stroke="#0000ff" stroke-width="0.7"/>
<polygon points="652.1,196.7 656.0,197.0 654.4,193.6" fill="#0000ff"/>
<circle cx="639.1" cy="208.7" r="1.3" fill="#0000ff"/>
<line x1="639.1" y1="208.7" x2="642.6" y2="207.9" stroke="#0000ff" stroke-width="0.7"/>
<polygon points="645.9,207.0 642.1,206.0 643.0,209.7" fill="#0000ff"/>
<circle cx="624.2" cy="222.9" r="1.3" fill="#0000ff"/>
<line x1="624.2" y1="222.9" x2="621.3" y2="220.7" stroke="#0000ff" stroke-width="0.7"/>
<polygon points="618.6,218.6 620.2,222.2 622.5,219.2" fill="#0000ff"/>
<circle cx="657.2" cy="221.8" r="1.3" fill="#0000ff"/>
<line x1="657.2" y1="221.8" x2="659.5" y2="219.1" stroke="#0000ff" stroke-width="0.7"/>
<polygon points="661.7,216.5 658.0,217.8 660.9,220.3" fill="#0000ff"/>
<circle cx="637.2" cy="230.1" r="1.3" fill="#0000ff"/>
<line x1="637.2" y1="230.1" x2="637.1" y2="233.7" stroke="#0000ff" stroke-width="0.7"/>
<polygon points="637.0,237.1 639.0,233.8 635.2,233.6" fill="#0000ff"/>
<circle cx="657.7" cy="242.6" r="1.3" fill="#0000ff"/>
<line x1="657.7" y1="242.6" x2="656.8" y2="239.2" stroke="#0000ff" stroke-width="0.7"/>
<polygon points="655.9,235.9 654.9,239.7 658.6,238.7" fill="#0000ff"/>
<circle cx="613.5" cy="233.8" r="1.3" fill="#ff0000"/>
<line x1="613.5" y1="233.8" x2="616.9" y2="235.2" stroke="#ff0000" stroke-width="0.7"/>
<polygon points="620.0,236.5 617.6,233.4 616.2,236.9" fill="#ff0000"/>
<circle cx="548.6" cy="266.7" r="1.3" fill="#0000ff"/>
<line x1="548.6" y1="266.7" x2="552.2" y2="267.2" stroke="#0000ff" stroke-width="0.7"/>
<polygon points="555.6,267.6 552.5,265.3 551.9,269.1" fill="#0000ff"/>
<circle cx="561.4" cy="285.6" r="1.3" fill="#0000ff"/>
<line x1="561.4" y1="285.6" x2="558.2" y2="287.3" stroke="#0000ff" stroke-width="0.7"/>
<polygon points="555.2,288.9 559.1,289.0 557.3,285.6" fill="#0000ff"/>
<circle cx="593.0" cy="270.1" r="1.3" fill="#0000ff"/>
<line x1="593.0" y1="270.1" x2="590.5" y2="267.6" stroke="#0000ff" stroke-width="0.7"/>
<polygon points="588.1,265.2 589.2,268.9 591.8,266.3" fill="#0000ff"/>
<circle cx="588.5" cy="308.9" r="1.3" fill="#0000ff"/>
<line x1="588.5" y1="308.9" x2="587.7" y2="305.4" stroke="#0000ff" stroke-width="0.7"/>
<polygon points="586.8,302.1 585.8,305.8 589.5,304.9" fill="#0000ff"/>
<circle cx="614.1" cy="257.6" r="1.3" fill="#0000ff"/>
<line x1="614.1" y1="257.6" x2="617.2" y2="255.9" stroke="#0000ff" stroke-width="0.7"/>
<polygon points="620.2,254.3 616.4,254.2 618.1,257.6" fill="#0000ff"/>
<circle cx="634.3" cy="280.8" r="1.3" fill="#0000ff"/>
<line x1="634.3" y1="280.8" x2="630.7" y2="281.1" stroke="#0000ff" stroke-width="0.7"/>
<polygon points="627.3,281.3 630.8,283.0 630.6,279.2" fill="#0000ff"/>
<circle cx="625.5" cy="296.3" r="1.3" fill="#0000ff"/>
<line x1="625.5" y1="296.3" x2="623.0" y2="298.9" stroke="#0000ff" stroke-width="0.7"/>
<polygon points="620.6,301.3 624.4,300.2 621.6,297.6" fill="#0000ff"/>
<path d="M667.7,258.7L671.3,262.3M667.7,262.3L671.3,258.7" stroke="#0000ff" stroke-width="1.2"/>
<path d="M669.7,259.1L673.3,262.7M669.7,262.7L673.3,259.1" stroke="#0000ff" stroke-width="1.2"/>
<path d="M671.8,258.5L675.4,262.1M671.8,262.1L675.4,258.5" stroke="#0000ff" stroke-width="1.2"/>
<path d="M668.5,257.2L672.1,260.8M668.5,260.8L672.1,257.2" stroke="#0000ff" stroke-width="1.2"/>
<path d="M670.9,257.0L674.5,260.6M670.9,260.6L674.5,257.0" stroke="#0000ff" stroke-width="1.2"/>
<path d="M669.4,257.9L673.0,261.5M669.4,261.5L673.0,257.9" stroke="#0000ff" stroke-width="1.2"/>
<path d="M668.0,256.8L671.6,260.4M668.0,260.4L671.6,256.8" stroke="#0000ff" stroke-width="1.2"/>
<path d="M671.5,257.6L675.1,261.2M671.5,261.2L675.1,257.6" stroke="#0000ff" stroke-width="1.2"/>
<path d="M667.3,259.8L670.9,263.4M667.3,263.4L670.9,259.8" stroke="#000" stroke-width="1.2"/>
<path d="M581.6,253.9 L585.6,256.3 L591.7,256.3 L598.6,256.0 L605.3,255.5 L612.2,252.3 L617.0,251.5 L624.7,250.9 L630.8,250.1 L636.9,250.9 L643.9,251.7 L650.8,254.7 L656.1,256.3 L663.0,259.2 L669.1,261.6 L669.7,261.3" fill="none" stroke="#000" stroke-width="1.1" stroke-dasharray="6 4" stroke-opacity="0.9"/>
</g>
<path d="M679.5,181.5H546.5V315.0H679.5" fill="none" stroke="#6c6c6c" stroke-width="1"/>
<path d="M679.5,181V315.5" fill="none" stroke="#a4a4a4" stroke-width="1"/>
<path d="M546.5,314.5v-1.5M546.5,182v1.5M547,315.0h1.5M679,315.0h-1.5M573.1,314.5v-1.5M573.1,182v1.5M547,288.3h1.5M679,288.3h-1.5M599.7,314.5v-1.5M599.7,182v1.5M547,261.6h1.5M679,261.6h-1.5M626.3,314.5v-1.5M626.3,182v1.5M547,234.9h1.5M679,234.9h-1.5M652.9,314.5v-1.5M652.9,182v1.5M547,208.2h1.5M679,208.2h-1.5M679.5,314.5v-1.5M679.5,182v1.5M547,181.5h1.5M679,181.5h-1.5" stroke="#6c6c6c" stroke-width="1"/>
<g class="tx"><text transform="translate(17.1,157.0) scale(0.9,1)" font-size="9.6" text-anchor="middle">0</text><text transform="translate(14.2,149.9) scale(0.9,1)" font-size="9.6" text-anchor="end">0</text><text transform="translate(43.7,157.0) scale(0.9,1)" font-size="9.6" text-anchor="middle">100</text><text transform="translate(14.2,123.3) scale(0.9,1)" font-size="9.6" text-anchor="end">100</text><text transform="translate(70.3,157.0) scale(0.9,1)" font-size="9.6" text-anchor="middle">200</text><text transform="translate(14.2,96.7) scale(0.9,1)" font-size="9.6" text-anchor="end">200</text><text transform="translate(96.9,157.0) scale(0.9,1)" font-size="9.6" text-anchor="middle">300</text><text transform="translate(14.2,70.1) scale(0.9,1)" font-size="9.6" text-anchor="end">300</text><text transform="translate(123.5,157.0) scale(0.9,1)" font-size="9.6" text-anchor="middle">400</text><text transform="translate(14.2,43.5) scale(0.9,1)" font-size="9.6" text-anchor="end">400</text><text transform="translate(150.1,157.0) scale(0.9,1)" font-size="9.6" text-anchor="middle">500</text><text transform="translate(14.2,16.9) scale(0.9,1)" font-size="9.6" text-anchor="end">500</text><text x="83.0" y="7.6" font-size="9.5" text-anchor="middle">t = 2</text><text transform="translate(193.1,157.0) scale(0.9,1)" font-size="9.6" text-anchor="middle">0</text><text transform="translate(190.2,149.9) scale(0.9,1)" font-size="9.6" text-anchor="end">0</text><text transform="translate(219.9,157.0) scale(0.9,1)" font-size="9.6" text-anchor="middle">100</text><text transform="translate(190.2,123.3) scale(0.9,1)" font-size="9.6" text-anchor="end">100</text><text transform="translate(246.7,157.0) scale(0.9,1)" font-size="9.6" text-anchor="middle">200</text><text transform="translate(190.2,96.7) scale(0.9,1)" font-size="9.6" text-anchor="end">200</text><text transform="translate(273.5,157.0) scale(0.9,1)" font-size="9.6" text-anchor="middle">300</text><text transform="translate(190.2,70.1) scale(0.9,1)" font-size="9.6" text-anchor="end">300</text><text transform="translate(300.3,157.0) scale(0.9,1)" font-size="9.6" text-anchor="middle">400</text><text transform="translate(190.2,43.5) scale(0.9,1)" font-size="9.6" text-anchor="end">400</text><text transform="translate(327.1,157.0) scale(0.9,1)" font-size="9.6" text-anchor="middle">500</text><text transform="translate(190.2,16.9) scale(0.9,1)" font-size="9.6" text-anchor="end">500</text><text x="259.5" y="7.6" font-size="9.5" text-anchor="middle">t = 3</text><text transform="translate(369.1,157.0) scale(0.9,1)" font-size="9.6" text-anchor="middle">0</text><text transform="translate(366.2,149.9) scale(0.9,1)" font-size="9.6" text-anchor="end">0</text><text transform="translate(395.9,157.0) scale(0.9,1)" font-size="9.6" text-anchor="middle">100</text><text transform="translate(366.2,123.3) scale(0.9,1)" font-size="9.6" text-anchor="end">100</text><text transform="translate(422.7,157.0) scale(0.9,1)" font-size="9.6" text-anchor="middle">200</text><text transform="translate(366.2,96.7) scale(0.9,1)" font-size="9.6" text-anchor="end">200</text><text transform="translate(449.5,157.0) scale(0.9,1)" font-size="9.6" text-anchor="middle">300</text><text transform="translate(366.2,70.1) scale(0.9,1)" font-size="9.6" text-anchor="end">300</text><text transform="translate(476.3,157.0) scale(0.9,1)" font-size="9.6" text-anchor="middle">400</text><text transform="translate(366.2,43.5) scale(0.9,1)" font-size="9.6" text-anchor="end">400</text><text transform="translate(503.1,157.0) scale(0.9,1)" font-size="9.6" text-anchor="middle">500</text><text transform="translate(366.2,16.9) scale(0.9,1)" font-size="9.6" text-anchor="end">500</text><text x="435.5" y="7.6" font-size="9.5" text-anchor="middle">t = 5</text><text transform="translate(546.1,157.0) scale(0.9,1)" font-size="9.6" text-anchor="middle">0</text><text transform="translate(543.2,149.9) scale(0.9,1)" font-size="9.6" text-anchor="end">0</text><text transform="translate(572.7,157.0) scale(0.9,1)" font-size="9.6" text-anchor="middle">100</text><text transform="translate(543.2,123.3) scale(0.9,1)" font-size="9.6" text-anchor="end">100</text><text transform="translate(599.3,157.0) scale(0.9,1)" font-size="9.6" text-anchor="middle">200</text><text transform="translate(543.2,96.7) scale(0.9,1)" font-size="9.6" text-anchor="end">200</text><text transform="translate(625.9,157.0) scale(0.9,1)" font-size="9.6" text-anchor="middle">300</text><text transform="translate(543.2,70.1) scale(0.9,1)" font-size="9.6" text-anchor="end">300</text><text transform="translate(652.5,157.0) scale(0.9,1)" font-size="9.6" text-anchor="middle">400</text><text transform="translate(543.2,43.5) scale(0.9,1)" font-size="9.6" text-anchor="end">400</text><text transform="translate(679.1,157.0) scale(0.9,1)" font-size="9.6" text-anchor="middle">500</text><text transform="translate(543.2,16.9) scale(0.9,1)" font-size="9.6" text-anchor="end">500</text><text x="612.0" y="7.6" font-size="9.5" text-anchor="middle">t = 10</text><text transform="translate(17.1,325.5) scale(0.9,1)" font-size="9.6" text-anchor="middle">0</text><text transform="translate(14.2,318.4) scale(0.9,1)" font-size="9.6" text-anchor="end">0</text><text transform="translate(43.7,325.5) scale(0.9,1)" font-size="9.6" text-anchor="middle">100</text><text transform="translate(14.2,291.7) scale(0.9,1)" font-size="9.6" text-anchor="end">100</text><text transform="translate(70.3,325.5) scale(0.9,1)" font-size="9.6" text-anchor="middle">200</text><text transform="translate(14.2,265.0) scale(0.9,1)" font-size="9.6" text-anchor="end">200</text><text transform="translate(96.9,325.5) scale(0.9,1)" font-size="9.6" text-anchor="middle">300</text><text transform="translate(14.2,238.3) scale(0.9,1)" font-size="9.6" text-anchor="end">300</text><text transform="translate(123.5,325.5) scale(0.9,1)" font-size="9.6" text-anchor="middle">400</text><text transform="translate(14.2,211.6) scale(0.9,1)" font-size="9.6" text-anchor="end">400</text><text transform="translate(150.1,325.5) scale(0.9,1)" font-size="9.6" text-anchor="middle">500</text><text transform="translate(14.2,184.9) scale(0.9,1)" font-size="9.6" text-anchor="end">500</text><text x="83.0" y="175.6" font-size="9.5" text-anchor="middle">t = 15</text><text transform="translate(193.1,325.5) scale(0.9,1)" font-size="9.6" text-anchor="middle">0</text><text transform="translate(190.2,318.4) scale(0.9,1)" font-size="9.6" text-anchor="end">0</text><text transform="translate(219.9,325.5) scale(0.9,1)" font-size="9.6" text-anchor="middle">100</text><text transform="translate(190.2,291.7) scale(0.9,1)" font-size="9.6" text-anchor="end">100</text><text transform="translate(246.7,325.5) scale(0.9,1)" font-size="9.6" text-anchor="middle">200</text><text transform="translate(190.2,265.0) scale(0.9,1)" font-size="9.6" text-anchor="end">200</text><text transform="translate(273.5,325.5) scale(0.9,1)" font-size="9.6" text-anchor="middle">300</text><text transform="translate(190.2,238.3) scale(0.9,1)" font-size="9.6" text-anchor="end">300</text><text transform="translate(300.3,325.5) scale(0.9,1)" font-size="9.6" text-anchor="middle">400</text><text transform="translate(190.2,211.6) scale(0.9,1)" font-size="9.6" text-anchor="end">400</text><text transform="translate(327.1,325.5) scale(0.9,1)" font-size="9.6" text-anchor="middle">500</text><text transform="translate(190.2,184.9) scale(0.9,1)" font-size="9.6" text-anchor="end">500</text><text x="259.5" y="175.6" font-size="9.5" text-anchor="middle">t = 20</text><text transform="translate(369.1,325.5) scale(0.9,1)" font-size="9.6" text-anchor="middle">0</text><text transform="translate(366.2,318.4) scale(0.9,1)" font-size="9.6" text-anchor="end">0</text><text transform="translate(395.9,325.5) scale(0.9,1)" font-size="9.6" text-anchor="middle">100</text><text transform="translate(366.2,291.7) scale(0.9,1)" font-size="9.6" text-anchor="end">100</text><text transform="translate(422.7,325.5) scale(0.9,1)" font-size="9.6" text-anchor="middle">200</text><text transform="translate(366.2,265.0) scale(0.9,1)" font-size="9.6" text-anchor="end">200</text><text transform="translate(449.5,325.5) scale(0.9,1)" font-size="9.6" text-anchor="middle">300</text><text transform="translate(366.2,238.3) scale(0.9,1)" font-size="9.6" text-anchor="end">300</text><text transform="translate(476.3,325.5) scale(0.9,1)" font-size="9.6" text-anchor="middle">400</text><text transform="translate(366.2,211.6) scale(0.9,1)" font-size="9.6" text-anchor="end">400</text><text transform="translate(503.1,325.5) scale(0.9,1)" font-size="9.6" text-anchor="middle">500</text><text transform="translate(366.2,184.9) scale(0.9,1)" font-size="9.6" text-anchor="end">500</text><text x="435.5" y="175.6" font-size="9.5" text-anchor="middle">t = 30</text><text transform="translate(546.1,325.5) scale(0.9,1)" font-size="9.6" text-anchor="middle">0</text><text transform="translate(543.2,318.4) scale(0.9,1)" font-size="9.6" text-anchor="end">0</text><text transform="translate(572.7,325.5) scale(0.9,1)" font-size="9.6" text-anchor="middle">100</text><text transform="translate(543.2,291.7) scale(0.9,1)" font-size="9.6" text-anchor="end">100</text><text transform="translate(599.3,325.5) scale(0.9,1)" font-size="9.6" text-anchor="middle">200</text><text transform="translate(543.2,265.0) scale(0.9,1)" font-size="9.6" text-anchor="end">200</text><text transform="translate(625.9,325.5) scale(0.9,1)" font-size="9.6" text-anchor="middle">300</text><text transform="translate(543.2,238.3) scale(0.9,1)" font-size="9.6" text-anchor="end">300</text><text transform="translate(652.5,325.5) scale(0.9,1)" font-size="9.6" text-anchor="middle">400</text><text transform="translate(543.2,211.6) scale(0.9,1)" font-size="9.6" text-anchor="end">400</text><text transform="translate(679.1,325.5) scale(0.9,1)" font-size="9.6" text-anchor="middle">500</text><text transform="translate(543.2,184.9) scale(0.9,1)" font-size="9.6" text-anchor="end">500</text><text x="612.0" y="175.6" font-size="9.5" text-anchor="middle">t = 40</text></g>
</svg></body></html>
